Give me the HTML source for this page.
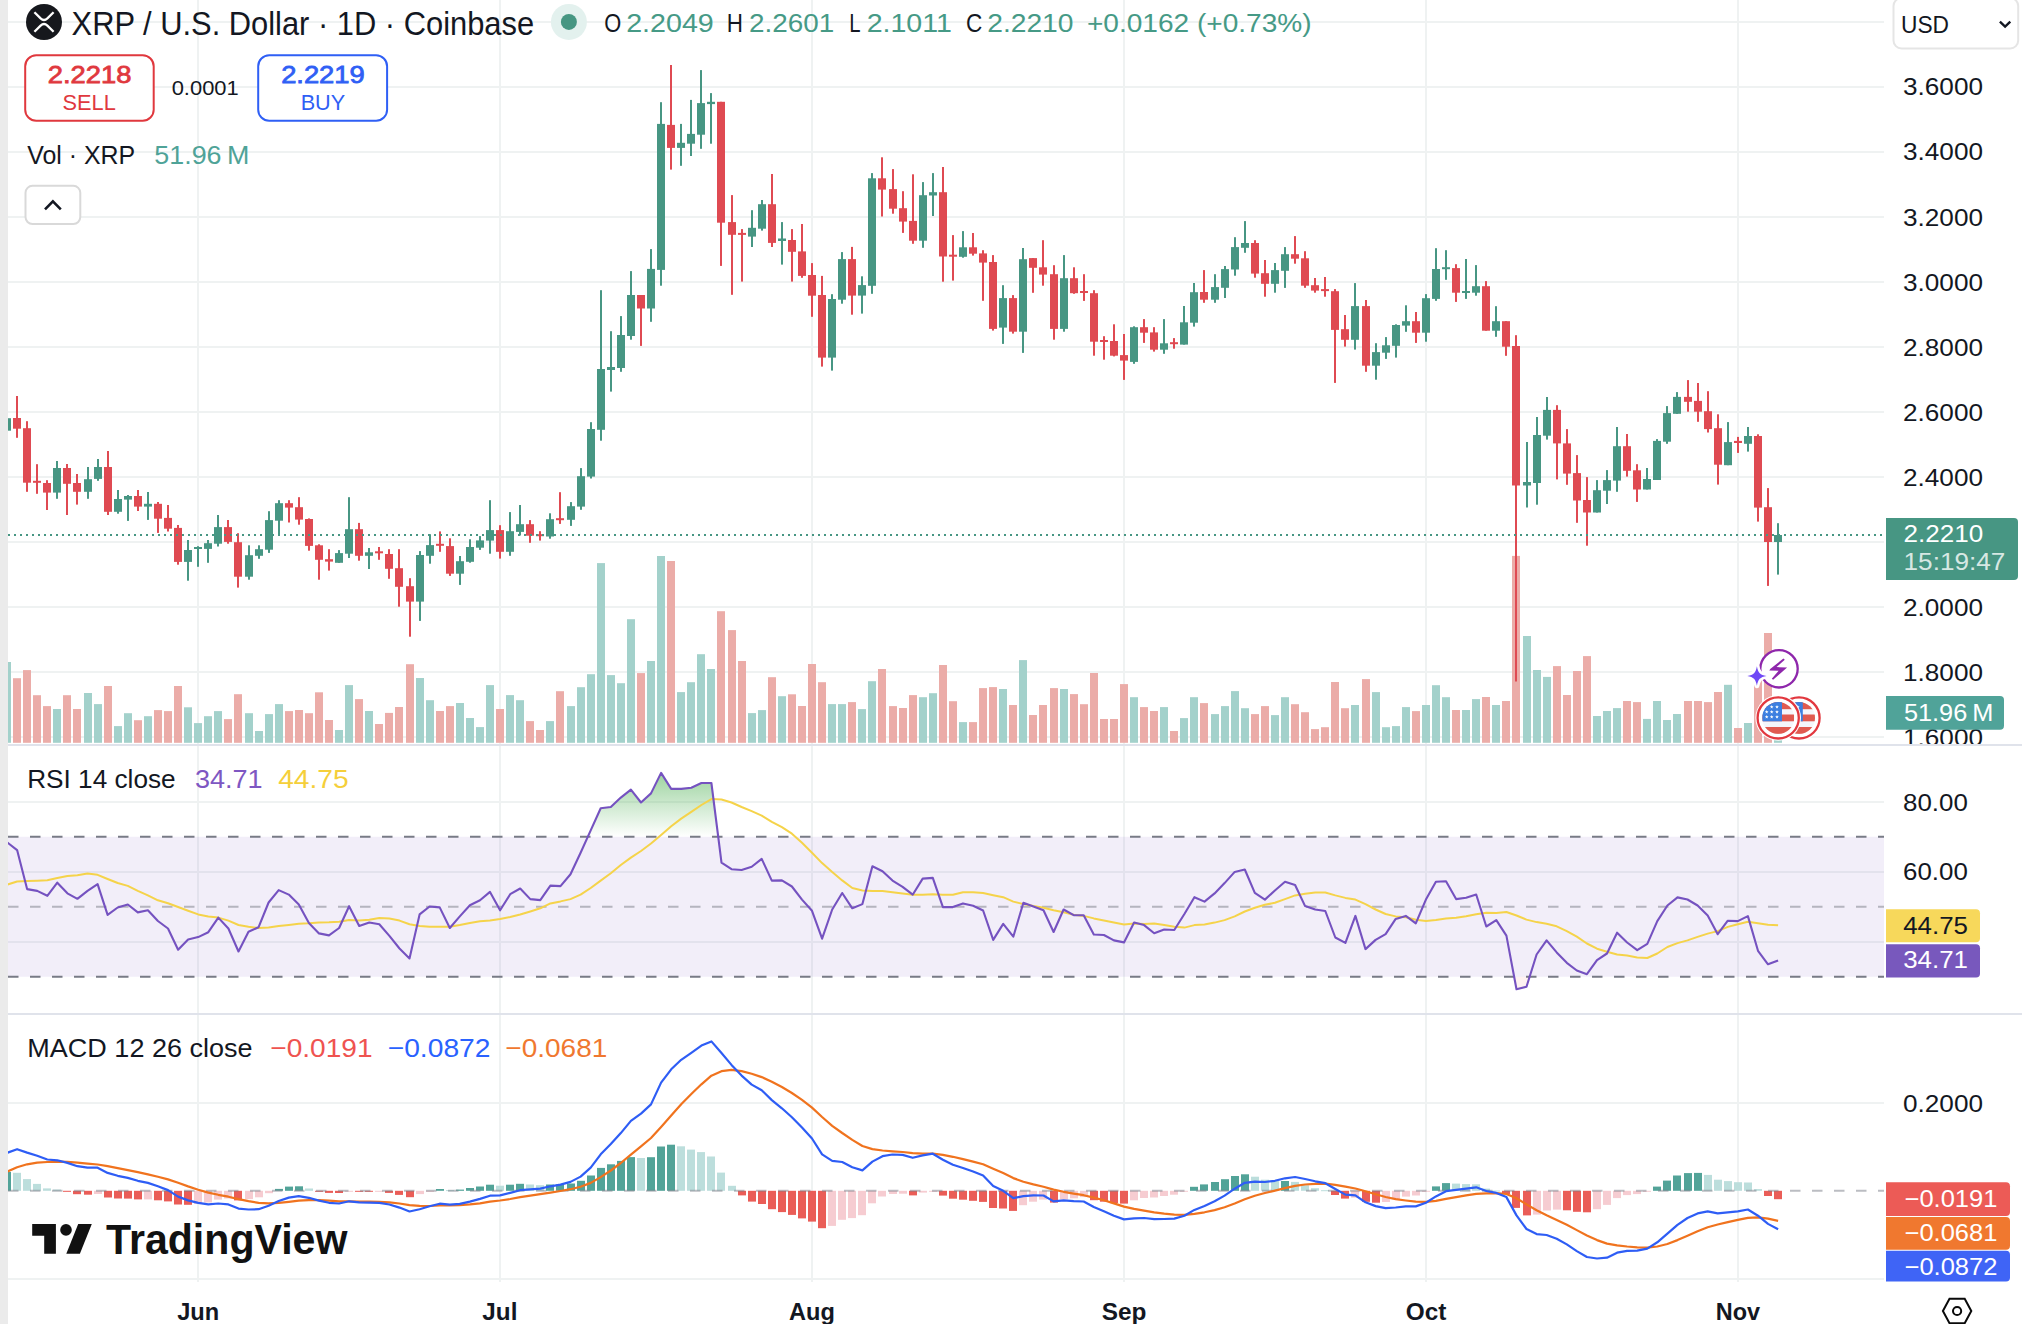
<!DOCTYPE html>
<html><head><meta charset="utf-8"><title>XRP / U.S. Dollar · 1D · Coinbase</title>
<style>
html,body{margin:0;padding:0;background:#fff;}
body{width:2022px;height:1324px;overflow:hidden;position:relative;font-family:'Liberation Sans', Arial, sans-serif;}
svg{position:absolute;left:0;top:0;}
</style></head><body>
<svg width="2022" height="1324" viewBox="0 0 2022 1324" font-family="'Liberation Sans', Arial, sans-serif">
<defs>
<linearGradient id="obg" x1="0" y1="0" x2="0" y2="1"><stop offset="0" stop-color="#4caf50" stop-opacity="0.55"/><stop offset="1" stop-color="#4caf50" stop-opacity="0"/></linearGradient>
<clipPath id="plot"><rect x="8" y="0" width="1876" height="744"/></clipPath>
<clipPath id="rsiclip"><rect x="8" y="746" width="1876" height="267"/></clipPath>
<clipPath id="macdclip"><rect x="8" y="1015" width="1876" height="267"/></clipPath>
<clipPath id="axisclip"><rect x="1884" y="0" width="138" height="744"/><rect x="1884" y="746" width="138" height="267"/><rect x="1884" y="1015" width="138" height="267"/></clipPath>
</defs>
<rect width="2022" height="1324" fill="#ffffff"/>
<g shape-rendering="crispEdges"><rect x="8" y="20.7" width="1876" height="2" fill="#eff2f2"/><rect x="8" y="85.7" width="1876" height="2" fill="#eff2f2"/><rect x="8" y="150.7" width="1876" height="2" fill="#eff2f2"/><rect x="8" y="215.8" width="1876" height="2" fill="#eff2f2"/><rect x="8" y="280.8" width="1876" height="2" fill="#eff2f2"/><rect x="8" y="345.8" width="1876" height="2" fill="#eff2f2"/><rect x="8" y="410.8" width="1876" height="2" fill="#eff2f2"/><rect x="8" y="475.8" width="1876" height="2" fill="#eff2f2"/><rect x="8" y="540.9" width="1876" height="2" fill="#eff2f2"/><rect x="8" y="605.9" width="1876" height="2" fill="#eff2f2"/><rect x="8" y="670.9" width="1876" height="2" fill="#eff2f2"/><rect x="8" y="735.9" width="1876" height="2" fill="#eff2f2"/><rect x="8" y="800.8" width="1876" height="2" fill="#eff2f2"/><rect x="8" y="870.8" width="1876" height="2" fill="#eff2f2"/><rect x="8" y="940.8" width="1876" height="2" fill="#eff2f2"/><rect x="8" y="1102.0" width="1876" height="2" fill="#eff2f2"/><rect x="8" y="1277.6" width="1876" height="2" fill="#eff2f2"/><rect x="197.2" y="0" width="2" height="1282" fill="#eff2f2"/><rect x="498.9" y="0" width="2" height="1282" fill="#eff2f2"/><rect x="811.0" y="0" width="2" height="1282" fill="#eff2f2"/><rect x="1123.0" y="0" width="2" height="1282" fill="#eff2f2"/><rect x="1425.0" y="0" width="2" height="1282" fill="#eff2f2"/><rect x="1737.0" y="0" width="2" height="1282" fill="#eff2f2"/></g>
<rect x="8" y="836.8" width="1876" height="140.0" fill="#7e57c2" fill-opacity="0.1"/>
<g clip-path="url(#plot)"><rect x="3" y="662.0" width="8" height="80.8" fill="#a3d1cb"/><rect x="13" y="678.2" width="8" height="64.6" fill="#ebaca8"/><rect x="23" y="670.1" width="8" height="72.7" fill="#ebaca8"/><rect x="33" y="695.2" width="8" height="47.6" fill="#ebaca8"/><rect x="43" y="706.1" width="8" height="36.7" fill="#ebaca8"/><rect x="53" y="709.0" width="8" height="33.8" fill="#a3d1cb"/><rect x="63" y="695.2" width="8" height="47.6" fill="#ebaca8"/><rect x="73" y="709.0" width="8" height="33.8" fill="#ebaca8"/><rect x="84" y="693.0" width="8" height="49.8" fill="#a3d1cb"/><rect x="94" y="704.1" width="8" height="38.7" fill="#a3d1cb"/><rect x="104" y="686.0" width="8" height="56.8" fill="#ebaca8"/><rect x="114" y="726.1" width="8" height="16.7" fill="#a3d1cb"/><rect x="124" y="713.2" width="8" height="29.6" fill="#a3d1cb"/><rect x="134" y="720.2" width="8" height="22.6" fill="#ebaca8"/><rect x="144" y="716.2" width="8" height="26.6" fill="#a3d1cb"/><rect x="154" y="710.1" width="8" height="32.7" fill="#ebaca8"/><rect x="164" y="711.1" width="8" height="31.7" fill="#ebaca8"/><rect x="174" y="686.0" width="8" height="56.8" fill="#ebaca8"/><rect x="184" y="707.3" width="8" height="35.5" fill="#a3d1cb"/><rect x="194" y="723.1" width="8" height="19.7" fill="#a3d1cb"/><rect x="204" y="716.2" width="8" height="26.6" fill="#a3d1cb"/><rect x="214" y="711.1" width="8" height="31.7" fill="#a3d1cb"/><rect x="224" y="719.1" width="8" height="23.7" fill="#ebaca8"/><rect x="234" y="694.2" width="8" height="48.6" fill="#ebaca8"/><rect x="245" y="713.2" width="8" height="29.6" fill="#a3d1cb"/><rect x="255" y="731.0" width="8" height="11.8" fill="#a3d1cb"/><rect x="265" y="714.1" width="8" height="28.7" fill="#a3d1cb"/><rect x="275" y="704.1" width="8" height="38.7" fill="#a3d1cb"/><rect x="285" y="711.1" width="8" height="31.7" fill="#ebaca8"/><rect x="295" y="710.0" width="8" height="32.8" fill="#ebaca8"/><rect x="305" y="713.2" width="8" height="29.6" fill="#ebaca8"/><rect x="315" y="692.3" width="8" height="50.5" fill="#ebaca8"/><rect x="325" y="720.0" width="8" height="22.8" fill="#ebaca8"/><rect x="335" y="730.0" width="8" height="12.8" fill="#a3d1cb"/><rect x="345" y="685.1" width="8" height="57.7" fill="#a3d1cb"/><rect x="355" y="699.1" width="8" height="43.7" fill="#ebaca8"/><rect x="365" y="711.0" width="8" height="31.8" fill="#a3d1cb"/><rect x="375" y="724.0" width="8" height="18.8" fill="#ebaca8"/><rect x="385" y="712.9" width="8" height="29.9" fill="#ebaca8"/><rect x="395" y="707.0" width="8" height="35.8" fill="#ebaca8"/><rect x="406" y="664.2" width="8" height="78.6" fill="#ebaca8"/><rect x="416" y="678.0" width="8" height="64.8" fill="#a3d1cb"/><rect x="426" y="700.2" width="8" height="42.6" fill="#a3d1cb"/><rect x="436" y="711.0" width="8" height="31.8" fill="#ebaca8"/><rect x="446" y="706.1" width="8" height="36.7" fill="#ebaca8"/><rect x="456" y="703.0" width="8" height="39.8" fill="#a3d1cb"/><rect x="466" y="718.0" width="8" height="24.8" fill="#a3d1cb"/><rect x="476" y="727.1" width="8" height="15.7" fill="#a3d1cb"/><rect x="486" y="685.1" width="8" height="57.7" fill="#a3d1cb"/><rect x="496" y="709.0" width="8" height="33.8" fill="#ebaca8"/><rect x="506" y="695.1" width="8" height="47.7" fill="#a3d1cb"/><rect x="516" y="700.2" width="8" height="42.6" fill="#a3d1cb"/><rect x="526" y="721.1" width="8" height="21.7" fill="#ebaca8"/><rect x="536" y="730.0" width="8" height="12.8" fill="#ebaca8"/><rect x="546" y="721.1" width="8" height="21.7" fill="#a3d1cb"/><rect x="556" y="691.2" width="8" height="51.6" fill="#ebaca8"/><rect x="567" y="706.1" width="8" height="36.7" fill="#a3d1cb"/><rect x="577" y="687.2" width="8" height="55.6" fill="#a3d1cb"/><rect x="587" y="674.2" width="8" height="68.6" fill="#a3d1cb"/><rect x="597" y="563.1" width="8" height="179.7" fill="#a3d1cb"/><rect x="607" y="675.1" width="8" height="67.7" fill="#a3d1cb"/><rect x="617" y="683.2" width="8" height="59.6" fill="#a3d1cb"/><rect x="627" y="619.2" width="8" height="123.6" fill="#a3d1cb"/><rect x="637" y="673.1" width="8" height="69.7" fill="#ebaca8"/><rect x="647" y="661.0" width="8" height="81.8" fill="#a3d1cb"/><rect x="657" y="556.0" width="8" height="186.8" fill="#a3d1cb"/><rect x="667" y="561.0" width="8" height="181.8" fill="#ebaca8"/><rect x="677" y="692.1" width="8" height="50.7" fill="#a3d1cb"/><rect x="687" y="682.2" width="8" height="60.6" fill="#a3d1cb"/><rect x="697" y="654.2" width="8" height="88.6" fill="#a3d1cb"/><rect x="707" y="669.0" width="8" height="73.8" fill="#a3d1cb"/><rect x="717" y="611.2" width="8" height="131.6" fill="#ebaca8"/><rect x="728" y="630.1" width="8" height="112.7" fill="#ebaca8"/><rect x="738" y="661.0" width="8" height="81.8" fill="#ebaca8"/><rect x="748" y="713.1" width="8" height="29.7" fill="#a3d1cb"/><rect x="758" y="710.1" width="8" height="32.7" fill="#a3d1cb"/><rect x="768" y="677.2" width="8" height="65.6" fill="#ebaca8"/><rect x="778" y="696.2" width="8" height="46.6" fill="#a3d1cb"/><rect x="788" y="694.3" width="8" height="48.5" fill="#ebaca8"/><rect x="798" y="706.0" width="8" height="36.8" fill="#ebaca8"/><rect x="808" y="664.0" width="8" height="78.8" fill="#ebaca8"/><rect x="818" y="682.2" width="8" height="60.6" fill="#ebaca8"/><rect x="828" y="704.1" width="8" height="38.7" fill="#a3d1cb"/><rect x="838" y="704.1" width="8" height="38.7" fill="#a3d1cb"/><rect x="848" y="702.1" width="8" height="40.7" fill="#ebaca8"/><rect x="858" y="709.1" width="8" height="33.7" fill="#a3d1cb"/><rect x="868" y="681.2" width="8" height="61.6" fill="#a3d1cb"/><rect x="878" y="669.0" width="8" height="73.8" fill="#ebaca8"/><rect x="889" y="706.1" width="8" height="36.7" fill="#ebaca8"/><rect x="899" y="708.0" width="8" height="34.8" fill="#ebaca8"/><rect x="909" y="695.1" width="8" height="47.7" fill="#ebaca8"/><rect x="919" y="697.2" width="8" height="45.6" fill="#a3d1cb"/><rect x="929" y="693.2" width="8" height="49.6" fill="#a3d1cb"/><rect x="939" y="665.0" width="8" height="77.8" fill="#ebaca8"/><rect x="949" y="701.2" width="8" height="41.6" fill="#ebaca8"/><rect x="959" y="722.1" width="8" height="20.7" fill="#a3d1cb"/><rect x="969" y="722.1" width="8" height="20.7" fill="#ebaca8"/><rect x="979" y="688.1" width="8" height="54.7" fill="#ebaca8"/><rect x="989" y="687.1" width="8" height="55.7" fill="#ebaca8"/><rect x="999" y="689.0" width="8" height="53.8" fill="#a3d1cb"/><rect x="1009" y="705.0" width="8" height="37.8" fill="#ebaca8"/><rect x="1019" y="660.1" width="8" height="82.7" fill="#a3d1cb"/><rect x="1029" y="715.0" width="8" height="27.8" fill="#ebaca8"/><rect x="1039" y="705.0" width="8" height="37.8" fill="#ebaca8"/><rect x="1050" y="688.1" width="8" height="54.7" fill="#ebaca8"/><rect x="1060" y="689.0" width="8" height="53.8" fill="#a3d1cb"/><rect x="1070" y="694.1" width="8" height="48.7" fill="#ebaca8"/><rect x="1080" y="704.2" width="8" height="38.6" fill="#ebaca8"/><rect x="1090" y="673.0" width="8" height="69.8" fill="#ebaca8"/><rect x="1100" y="719.0" width="8" height="23.8" fill="#ebaca8"/><rect x="1110" y="719.0" width="8" height="23.8" fill="#ebaca8"/><rect x="1120" y="684.1" width="8" height="58.7" fill="#ebaca8"/><rect x="1130" y="697.2" width="8" height="45.6" fill="#a3d1cb"/><rect x="1140" y="707.1" width="8" height="35.7" fill="#ebaca8"/><rect x="1150" y="711.0" width="8" height="31.8" fill="#ebaca8"/><rect x="1160" y="707.1" width="8" height="35.7" fill="#a3d1cb"/><rect x="1170" y="731.0" width="8" height="11.8" fill="#ebaca8"/><rect x="1180" y="718.1" width="8" height="24.7" fill="#a3d1cb"/><rect x="1190" y="697.2" width="8" height="45.6" fill="#a3d1cb"/><rect x="1200" y="703.1" width="8" height="39.7" fill="#ebaca8"/><rect x="1211" y="714.1" width="8" height="28.7" fill="#a3d1cb"/><rect x="1221" y="706.1" width="8" height="36.7" fill="#a3d1cb"/><rect x="1231" y="691.1" width="8" height="51.7" fill="#a3d1cb"/><rect x="1241" y="708.2" width="8" height="34.6" fill="#a3d1cb"/><rect x="1251" y="714.1" width="8" height="28.7" fill="#ebaca8"/><rect x="1261" y="706.1" width="8" height="36.7" fill="#ebaca8"/><rect x="1271" y="715.1" width="8" height="27.7" fill="#a3d1cb"/><rect x="1281" y="697.2" width="8" height="45.6" fill="#a3d1cb"/><rect x="1291" y="704.2" width="8" height="38.6" fill="#ebaca8"/><rect x="1301" y="712.2" width="8" height="30.6" fill="#ebaca8"/><rect x="1311" y="729.1" width="8" height="13.7" fill="#ebaca8"/><rect x="1321" y="727.2" width="8" height="15.6" fill="#ebaca8"/><rect x="1331" y="682.0" width="8" height="60.8" fill="#ebaca8"/><rect x="1341" y="708.2" width="8" height="34.6" fill="#ebaca8"/><rect x="1351" y="705.0" width="8" height="37.8" fill="#a3d1cb"/><rect x="1362" y="679.1" width="8" height="63.7" fill="#ebaca8"/><rect x="1372" y="692.1" width="8" height="50.7" fill="#a3d1cb"/><rect x="1382" y="727.2" width="8" height="15.6" fill="#a3d1cb"/><rect x="1392" y="726.1" width="8" height="16.7" fill="#a3d1cb"/><rect x="1402" y="707.1" width="8" height="35.7" fill="#a3d1cb"/><rect x="1412" y="711.1" width="8" height="31.7" fill="#ebaca8"/><rect x="1422" y="705.0" width="8" height="37.8" fill="#a3d1cb"/><rect x="1432" y="685.2" width="8" height="57.6" fill="#a3d1cb"/><rect x="1442" y="697.2" width="8" height="45.6" fill="#a3d1cb"/><rect x="1452" y="710.0" width="8" height="32.8" fill="#ebaca8"/><rect x="1462" y="710.0" width="8" height="32.8" fill="#a3d1cb"/><rect x="1472" y="699.1" width="8" height="43.7" fill="#a3d1cb"/><rect x="1482" y="697.0" width="8" height="45.8" fill="#ebaca8"/><rect x="1492" y="705.0" width="8" height="37.8" fill="#a3d1cb"/><rect x="1502" y="701.0" width="8" height="41.8" fill="#ebaca8"/><rect x="1512" y="555.9" width="8" height="186.9" fill="#ebaca8"/><rect x="1523" y="636.0" width="8" height="106.8" fill="#a3d1cb"/><rect x="1533" y="670.0" width="8" height="72.8" fill="#a3d1cb"/><rect x="1543" y="676.9" width="8" height="65.9" fill="#a3d1cb"/><rect x="1553" y="666.1" width="8" height="76.7" fill="#ebaca8"/><rect x="1563" y="695.0" width="8" height="47.8" fill="#ebaca8"/><rect x="1573" y="671.0" width="8" height="71.8" fill="#ebaca8"/><rect x="1583" y="656.1" width="8" height="86.7" fill="#ebaca8"/><rect x="1593" y="716.0" width="8" height="26.8" fill="#a3d1cb"/><rect x="1603" y="711.0" width="8" height="31.8" fill="#a3d1cb"/><rect x="1613" y="708.1" width="8" height="34.7" fill="#a3d1cb"/><rect x="1623" y="701.0" width="8" height="41.8" fill="#ebaca8"/><rect x="1633" y="702.1" width="8" height="40.7" fill="#ebaca8"/><rect x="1643" y="718.9" width="8" height="23.9" fill="#a3d1cb"/><rect x="1653" y="701.0" width="8" height="41.8" fill="#a3d1cb"/><rect x="1663" y="720.0" width="8" height="22.8" fill="#a3d1cb"/><rect x="1673" y="714.0" width="8" height="28.8" fill="#a3d1cb"/><rect x="1684" y="701.0" width="8" height="41.8" fill="#ebaca8"/><rect x="1694" y="701.0" width="8" height="41.8" fill="#ebaca8"/><rect x="1704" y="702.1" width="8" height="40.7" fill="#ebaca8"/><rect x="1714" y="692.0" width="8" height="50.8" fill="#ebaca8"/><rect x="1724" y="684.8" width="8" height="58.0" fill="#a3d1cb"/><rect x="1734" y="728.0" width="8" height="14.8" fill="#ebaca8"/><rect x="1744" y="723.0" width="8" height="19.8" fill="#a3d1cb"/><rect x="1754" y="672.0" width="8" height="70.8" fill="#ebaca8"/><rect x="1764" y="633.0" width="8" height="109.8" fill="#ebaca8"/><rect x="1774" y="722.0" width="8" height="20.8" fill="#a3d1cb"/></g>
<g clip-path="url(#plot)"><rect x="6" y="418.0" width="2" height="13.0" fill="#479683"/><rect x="3" y="418.2" width="8" height="12.5" fill="#479683"/><rect x="16" y="396.0" width="2" height="41.8" fill="#df4a52"/><rect x="13" y="418.0" width="8" height="10.7" fill="#df4a52"/><rect x="26" y="421.2" width="2" height="70.6" fill="#df4a52"/><rect x="23" y="428.2" width="8" height="54.5" fill="#df4a52"/><rect x="36" y="464.2" width="2" height="29.6" fill="#df4a52"/><rect x="33" y="480.8" width="8" height="2.0" fill="#df4a52"/><rect x="46" y="480.2" width="2" height="29.8" fill="#df4a52"/><rect x="43" y="483.0" width="8" height="9.6" fill="#df4a52"/><rect x="56" y="461.0" width="2" height="37.8" fill="#479683"/><rect x="53" y="468.0" width="8" height="24.6" fill="#479683"/><rect x="66" y="464.0" width="2" height="51.0" fill="#df4a52"/><rect x="63" y="468.0" width="8" height="15.8" fill="#df4a52"/><rect x="76" y="474.0" width="2" height="30.6" fill="#df4a52"/><rect x="73" y="483.0" width="8" height="8.8" fill="#df4a52"/><rect x="87" y="467.0" width="2" height="31.8" fill="#479683"/><rect x="84" y="479.2" width="8" height="12.6" fill="#479683"/><rect x="97" y="459.0" width="2" height="21.8" fill="#479683"/><rect x="94" y="467.0" width="8" height="11.9" fill="#479683"/><rect x="107" y="451.0" width="2" height="64.0" fill="#df4a52"/><rect x="104" y="467.0" width="8" height="44.8" fill="#df4a52"/><rect x="117" y="490.0" width="2" height="23.7" fill="#479683"/><rect x="114" y="499.0" width="8" height="12.8" fill="#479683"/><rect x="127" y="495.0" width="2" height="25.9" fill="#479683"/><rect x="124" y="496.0" width="8" height="3.6" fill="#479683"/><rect x="137" y="490.0" width="2" height="21.0" fill="#df4a52"/><rect x="134" y="496.0" width="8" height="10.6" fill="#df4a52"/><rect x="147" y="492.0" width="2" height="27.9" fill="#479683"/><rect x="144" y="503.8" width="8" height="2.8" fill="#479683"/><rect x="157" y="502.0" width="2" height="30.9" fill="#df4a52"/><rect x="154" y="503.8" width="8" height="14.9" fill="#df4a52"/><rect x="167" y="505.0" width="2" height="26.5" fill="#df4a52"/><rect x="164" y="517.9" width="8" height="10.8" fill="#df4a52"/><rect x="177" y="525.0" width="2" height="39.7" fill="#df4a52"/><rect x="174" y="527.9" width="8" height="34.0" fill="#df4a52"/><rect x="187" y="540.0" width="2" height="40.7" fill="#479683"/><rect x="184" y="550.0" width="8" height="11.9" fill="#479683"/><rect x="197" y="546.2" width="2" height="20.6" fill="#479683"/><rect x="194" y="547.0" width="8" height="2.0" fill="#479683"/><rect x="207" y="540.0" width="2" height="22.8" fill="#479683"/><rect x="204" y="543.2" width="8" height="5.7" fill="#479683"/><rect x="217" y="515.0" width="2" height="31.5" fill="#479683"/><rect x="214" y="527.1" width="8" height="16.6" fill="#479683"/><rect x="227" y="520.0" width="2" height="23.7" fill="#df4a52"/><rect x="224" y="527.1" width="8" height="14.8" fill="#df4a52"/><rect x="237" y="533.2" width="2" height="54.4" fill="#df4a52"/><rect x="234" y="542.2" width="8" height="34.5" fill="#df4a52"/><rect x="248" y="545.3" width="2" height="34.4" fill="#479683"/><rect x="245" y="555.2" width="8" height="21.5" fill="#479683"/><rect x="258" y="545.3" width="2" height="13.5" fill="#479683"/><rect x="255" y="549.2" width="8" height="6.6" fill="#479683"/><rect x="268" y="511.2" width="2" height="41.7" fill="#479683"/><rect x="265" y="520.1" width="8" height="29.6" fill="#479683"/><rect x="278" y="500.2" width="2" height="35.6" fill="#479683"/><rect x="275" y="503.2" width="8" height="17.5" fill="#479683"/><rect x="288" y="500.2" width="2" height="22.3" fill="#df4a52"/><rect x="285" y="503.2" width="8" height="4.4" fill="#df4a52"/><rect x="298" y="497.2" width="2" height="27.5" fill="#df4a52"/><rect x="295" y="507.2" width="8" height="12.4" fill="#df4a52"/><rect x="308" y="518.4" width="2" height="32.3" fill="#df4a52"/><rect x="305" y="519.0" width="8" height="26.9" fill="#df4a52"/><rect x="318" y="544.3" width="2" height="35.4" fill="#df4a52"/><rect x="315" y="545.3" width="8" height="14.5" fill="#df4a52"/><rect x="328" y="549.2" width="2" height="21.4" fill="#df4a52"/><rect x="325" y="559.2" width="8" height="2.4" fill="#df4a52"/><rect x="338" y="550.1" width="2" height="12.7" fill="#479683"/><rect x="335" y="553.1" width="8" height="9.7" fill="#479683"/><rect x="348" y="497.2" width="2" height="60.8" fill="#479683"/><rect x="345" y="529.2" width="8" height="24.5" fill="#479683"/><rect x="358" y="522.9" width="2" height="37.8" fill="#df4a52"/><rect x="355" y="529.2" width="8" height="26.6" fill="#df4a52"/><rect x="368" y="548.0" width="2" height="21.0" fill="#479683"/><rect x="365" y="552.3" width="8" height="3.5" fill="#479683"/><rect x="378" y="547.0" width="2" height="12.8" fill="#df4a52"/><rect x="375" y="551.3" width="8" height="2.0" fill="#df4a52"/><rect x="388" y="549.2" width="2" height="29.6" fill="#df4a52"/><rect x="385" y="554.0" width="8" height="14.8" fill="#df4a52"/><rect x="398" y="549.2" width="2" height="57.5" fill="#df4a52"/><rect x="395" y="568.2" width="8" height="18.6" fill="#df4a52"/><rect x="409" y="578.2" width="2" height="58.5" fill="#df4a52"/><rect x="406" y="586.2" width="8" height="15.4" fill="#df4a52"/><rect x="419" y="551.1" width="2" height="69.8" fill="#479683"/><rect x="416" y="555.0" width="8" height="46.6" fill="#479683"/><rect x="429" y="534.2" width="2" height="29.5" fill="#479683"/><rect x="426" y="545.1" width="8" height="10.7" fill="#479683"/><rect x="439" y="531.4" width="2" height="20.4" fill="#df4a52"/><rect x="436" y="543.8" width="8" height="2.0" fill="#df4a52"/><rect x="449" y="538.3" width="2" height="37.6" fill="#df4a52"/><rect x="446" y="546.1" width="8" height="27.6" fill="#df4a52"/><rect x="459" y="556.0" width="2" height="28.9" fill="#479683"/><rect x="456" y="561.2" width="8" height="12.5" fill="#479683"/><rect x="469" y="539.3" width="2" height="23.4" fill="#479683"/><rect x="466" y="547.0" width="8" height="14.8" fill="#479683"/><rect x="479" y="536.1" width="2" height="13.8" fill="#479683"/><rect x="476" y="540.4" width="8" height="7.3" fill="#479683"/><rect x="489" y="500.2" width="2" height="53.5" fill="#479683"/><rect x="486" y="530.1" width="8" height="10.5" fill="#479683"/><rect x="499" y="525.2" width="2" height="33.4" fill="#df4a52"/><rect x="496" y="530.1" width="8" height="21.7" fill="#df4a52"/><rect x="509" y="512.1" width="2" height="43.7" fill="#479683"/><rect x="506" y="531.2" width="8" height="20.6" fill="#479683"/><rect x="519" y="505.0" width="2" height="30.5" fill="#479683"/><rect x="516" y="524.2" width="8" height="7.7" fill="#479683"/><rect x="529" y="520.1" width="2" height="22.7" fill="#df4a52"/><rect x="526" y="524.2" width="8" height="11.5" fill="#df4a52"/><rect x="539" y="531.2" width="2" height="9.4" fill="#df4a52"/><rect x="536" y="534.2" width="8" height="2.0" fill="#df4a52"/><rect x="549" y="513.3" width="2" height="25.4" fill="#479683"/><rect x="546" y="519.2" width="8" height="17.3" fill="#479683"/><rect x="559" y="492.2" width="2" height="31.7" fill="#df4a52"/><rect x="556" y="518.2" width="8" height="2.0" fill="#df4a52"/><rect x="570" y="502.1" width="2" height="23.8" fill="#479683"/><rect x="567" y="506.2" width="8" height="13.6" fill="#479683"/><rect x="580" y="468.1" width="2" height="41.7" fill="#479683"/><rect x="577" y="476.2" width="8" height="30.4" fill="#479683"/><rect x="590" y="422.2" width="2" height="56.3" fill="#479683"/><rect x="587" y="429.0" width="8" height="47.6" fill="#479683"/><rect x="600" y="290.2" width="2" height="150.5" fill="#479683"/><rect x="597" y="369.0" width="8" height="60.8" fill="#479683"/><rect x="610" y="331.2" width="2" height="60.4" fill="#479683"/><rect x="607" y="367.0" width="8" height="3.0" fill="#479683"/><rect x="620" y="316.1" width="2" height="55.7" fill="#479683"/><rect x="617" y="335.0" width="8" height="33.0" fill="#479683"/><rect x="630" y="271.1" width="2" height="68.6" fill="#479683"/><rect x="627" y="295.0" width="8" height="41.0" fill="#479683"/><rect x="640" y="295.0" width="2" height="50.9" fill="#df4a52"/><rect x="637" y="295.0" width="8" height="13.5" fill="#df4a52"/><rect x="650" y="249.1" width="2" height="72.7" fill="#479683"/><rect x="647" y="268.9" width="8" height="39.6" fill="#479683"/><rect x="660" y="102.2" width="2" height="183.5" fill="#479683"/><rect x="657" y="123.9" width="8" height="146.0" fill="#479683"/><rect x="670" y="65.0" width="2" height="104.6" fill="#df4a52"/><rect x="667" y="124.9" width="8" height="23.0" fill="#df4a52"/><rect x="680" y="123.9" width="2" height="41.9" fill="#479683"/><rect x="677" y="142.8" width="8" height="5.1" fill="#479683"/><rect x="690" y="99.9" width="2" height="56.1" fill="#479683"/><rect x="687" y="133.9" width="8" height="9.8" fill="#479683"/><rect x="700" y="70.1" width="2" height="78.7" fill="#479683"/><rect x="697" y="103.1" width="8" height="31.6" fill="#479683"/><rect x="710" y="93.1" width="2" height="50.6" fill="#479683"/><rect x="707" y="101.8" width="8" height="2.3" fill="#479683"/><rect x="720" y="101.8" width="2" height="164.1" fill="#df4a52"/><rect x="717" y="101.8" width="8" height="120.9" fill="#df4a52"/><rect x="731" y="195.1" width="2" height="99.7" fill="#df4a52"/><rect x="728" y="222.1" width="8" height="12.7" fill="#df4a52"/><rect x="741" y="229.1" width="2" height="52.5" fill="#df4a52"/><rect x="738" y="232.9" width="8" height="2.0" fill="#df4a52"/><rect x="751" y="210.2" width="2" height="36.8" fill="#479683"/><rect x="748" y="227.8" width="8" height="8.8" fill="#479683"/><rect x="761" y="200.0" width="2" height="30.6" fill="#479683"/><rect x="758" y="204.2" width="8" height="24.5" fill="#479683"/><rect x="771" y="174.0" width="2" height="73.0" fill="#df4a52"/><rect x="768" y="204.2" width="8" height="38.7" fill="#df4a52"/><rect x="781" y="222.1" width="2" height="42.5" fill="#479683"/><rect x="778" y="238.5" width="8" height="2.5" fill="#479683"/><rect x="791" y="229.1" width="2" height="52.5" fill="#df4a52"/><rect x="788" y="240.0" width="8" height="11.8" fill="#df4a52"/><rect x="801" y="224.0" width="2" height="53.8" fill="#df4a52"/><rect x="798" y="251.4" width="8" height="24.5" fill="#df4a52"/><rect x="811" y="263.1" width="2" height="53.7" fill="#df4a52"/><rect x="808" y="275.0" width="8" height="20.7" fill="#df4a52"/><rect x="821" y="275.9" width="2" height="90.7" fill="#df4a52"/><rect x="818" y="295.0" width="8" height="62.6" fill="#df4a52"/><rect x="831" y="294.2" width="2" height="76.4" fill="#479683"/><rect x="828" y="299.0" width="8" height="58.6" fill="#479683"/><rect x="841" y="252.1" width="2" height="51.6" fill="#479683"/><rect x="838" y="259.1" width="8" height="40.6" fill="#479683"/><rect x="851" y="246.9" width="2" height="67.8" fill="#df4a52"/><rect x="848" y="259.1" width="8" height="36.5" fill="#df4a52"/><rect x="861" y="276.3" width="2" height="37.3" fill="#479683"/><rect x="858" y="285.1" width="8" height="10.5" fill="#479683"/><rect x="871" y="173.1" width="2" height="120.7" fill="#479683"/><rect x="868" y="178.3" width="8" height="107.5" fill="#479683"/><rect x="881" y="157.3" width="2" height="59.2" fill="#df4a52"/><rect x="878" y="178.3" width="8" height="11.3" fill="#df4a52"/><rect x="892" y="169.1" width="2" height="44.6" fill="#df4a52"/><rect x="889" y="189.1" width="8" height="19.6" fill="#df4a52"/><rect x="902" y="191.2" width="2" height="41.7" fill="#df4a52"/><rect x="899" y="208.2" width="8" height="13.4" fill="#df4a52"/><rect x="912" y="174.3" width="2" height="69.5" fill="#df4a52"/><rect x="909" y="220.9" width="8" height="19.8" fill="#df4a52"/><rect x="922" y="182.1" width="2" height="65.7" fill="#479683"/><rect x="919" y="195.2" width="8" height="45.5" fill="#479683"/><rect x="932" y="173.1" width="2" height="42.9" fill="#479683"/><rect x="929" y="192.2" width="8" height="3.3" fill="#479683"/><rect x="942" y="167.0" width="2" height="114.7" fill="#df4a52"/><rect x="939" y="192.2" width="8" height="64.3" fill="#df4a52"/><rect x="952" y="235.1" width="2" height="45.5" fill="#df4a52"/><rect x="949" y="254.7" width="8" height="2.0" fill="#df4a52"/><rect x="962" y="231.1" width="2" height="26.6" fill="#479683"/><rect x="959" y="247.3" width="8" height="9.5" fill="#479683"/><rect x="972" y="233.0" width="2" height="22.6" fill="#df4a52"/><rect x="969" y="247.3" width="8" height="6.4" fill="#df4a52"/><rect x="982" y="250.2" width="2" height="50.6" fill="#df4a52"/><rect x="979" y="253.4" width="8" height="9.2" fill="#df4a52"/><rect x="992" y="255.1" width="2" height="75.5" fill="#df4a52"/><rect x="989" y="262.0" width="8" height="66.9" fill="#df4a52"/><rect x="1002" y="285.2" width="2" height="58.7" fill="#479683"/><rect x="999" y="298.1" width="8" height="29.5" fill="#479683"/><rect x="1012" y="295.1" width="2" height="38.5" fill="#df4a52"/><rect x="1009" y="298.1" width="8" height="33.6" fill="#df4a52"/><rect x="1022" y="248.0" width="2" height="104.9" fill="#479683"/><rect x="1019" y="259.2" width="8" height="72.5" fill="#479683"/><rect x="1032" y="258.1" width="2" height="34.7" fill="#df4a52"/><rect x="1029" y="258.1" width="8" height="9.7" fill="#df4a52"/><rect x="1042" y="240.2" width="2" height="45.5" fill="#df4a52"/><rect x="1039" y="267.3" width="8" height="7.3" fill="#df4a52"/><rect x="1053" y="265.2" width="2" height="74.5" fill="#df4a52"/><rect x="1050" y="274.2" width="8" height="54.7" fill="#df4a52"/><rect x="1063" y="255.1" width="2" height="76.6" fill="#479683"/><rect x="1060" y="278.2" width="8" height="50.7" fill="#479683"/><rect x="1073" y="267.3" width="2" height="26.5" fill="#df4a52"/><rect x="1070" y="278.2" width="8" height="15.0" fill="#df4a52"/><rect x="1083" y="274.2" width="2" height="26.7" fill="#df4a52"/><rect x="1080" y="291.0" width="8" height="2.0" fill="#df4a52"/><rect x="1093" y="290.2" width="2" height="65.5" fill="#df4a52"/><rect x="1090" y="293.2" width="8" height="48.5" fill="#df4a52"/><rect x="1103" y="336.2" width="2" height="23.5" fill="#df4a52"/><rect x="1100" y="340.0" width="8" height="2.0" fill="#df4a52"/><rect x="1113" y="324.3" width="2" height="32.1" fill="#df4a52"/><rect x="1110" y="341.0" width="8" height="14.7" fill="#df4a52"/><rect x="1123" y="334.0" width="2" height="45.9" fill="#df4a52"/><rect x="1120" y="355.1" width="8" height="5.5" fill="#df4a52"/><rect x="1133" y="326.3" width="2" height="37.5" fill="#479683"/><rect x="1130" y="327.2" width="8" height="34.7" fill="#479683"/><rect x="1143" y="319.1" width="2" height="23.8" fill="#df4a52"/><rect x="1140" y="327.2" width="8" height="5.5" fill="#df4a52"/><rect x="1153" y="327.2" width="2" height="24.4" fill="#df4a52"/><rect x="1150" y="332.4" width="8" height="17.3" fill="#df4a52"/><rect x="1163" y="319.1" width="2" height="34.7" fill="#479683"/><rect x="1160" y="343.3" width="8" height="6.4" fill="#479683"/><rect x="1173" y="338.1" width="2" height="10.6" fill="#df4a52"/><rect x="1170" y="342.2" width="8" height="2.0" fill="#df4a52"/><rect x="1183" y="306.0" width="2" height="38.6" fill="#479683"/><rect x="1180" y="322.3" width="8" height="22.3" fill="#479683"/><rect x="1193" y="283.0" width="2" height="43.6" fill="#479683"/><rect x="1190" y="292.2" width="8" height="30.5" fill="#479683"/><rect x="1203" y="270.1" width="2" height="32.7" fill="#df4a52"/><rect x="1200" y="292.0" width="8" height="7.7" fill="#df4a52"/><rect x="1214" y="274.2" width="2" height="28.6" fill="#479683"/><rect x="1211" y="287.1" width="8" height="12.6" fill="#479683"/><rect x="1224" y="266.0" width="2" height="32.0" fill="#479683"/><rect x="1221" y="269.1" width="8" height="18.7" fill="#479683"/><rect x="1234" y="237.2" width="2" height="38.5" fill="#479683"/><rect x="1231" y="247.1" width="8" height="22.4" fill="#479683"/><rect x="1244" y="221.1" width="2" height="31.7" fill="#479683"/><rect x="1241" y="243.0" width="8" height="4.8" fill="#479683"/><rect x="1254" y="240.2" width="2" height="37.5" fill="#df4a52"/><rect x="1251" y="243.0" width="8" height="30.6" fill="#df4a52"/><rect x="1264" y="260.0" width="2" height="36.7" fill="#df4a52"/><rect x="1261" y="273.2" width="8" height="10.6" fill="#df4a52"/><rect x="1274" y="263.0" width="2" height="29.7" fill="#479683"/><rect x="1271" y="270.1" width="8" height="13.7" fill="#479683"/><rect x="1284" y="247.1" width="2" height="40.8" fill="#479683"/><rect x="1281" y="254.2" width="8" height="16.6" fill="#479683"/><rect x="1294" y="236.1" width="2" height="27.6" fill="#df4a52"/><rect x="1291" y="254.2" width="8" height="4.5" fill="#df4a52"/><rect x="1304" y="251.2" width="2" height="36.6" fill="#df4a52"/><rect x="1301" y="258.3" width="8" height="27.4" fill="#df4a52"/><rect x="1314" y="278.0" width="2" height="14.7" fill="#df4a52"/><rect x="1311" y="285.2" width="8" height="5.4" fill="#df4a52"/><rect x="1324" y="277.0" width="2" height="19.7" fill="#df4a52"/><rect x="1321" y="289.1" width="8" height="2.0" fill="#df4a52"/><rect x="1334" y="289.1" width="2" height="93.8" fill="#df4a52"/><rect x="1331" y="291.2" width="8" height="38.7" fill="#df4a52"/><rect x="1344" y="315.0" width="2" height="31.6" fill="#df4a52"/><rect x="1341" y="329.2" width="8" height="10.6" fill="#df4a52"/><rect x="1354" y="283.1" width="2" height="66.5" fill="#479683"/><rect x="1351" y="306.1" width="8" height="33.7" fill="#479683"/><rect x="1365" y="300.0" width="2" height="71.8" fill="#df4a52"/><rect x="1362" y="306.1" width="8" height="59.6" fill="#df4a52"/><rect x="1375" y="343.2" width="2" height="36.5" fill="#479683"/><rect x="1372" y="352.1" width="8" height="13.6" fill="#479683"/><rect x="1385" y="337.1" width="2" height="21.8" fill="#479683"/><rect x="1382" y="345.3" width="8" height="7.4" fill="#479683"/><rect x="1395" y="324.3" width="2" height="33.3" fill="#479683"/><rect x="1392" y="325.0" width="8" height="20.8" fill="#479683"/><rect x="1405" y="305.3" width="2" height="26.5" fill="#479683"/><rect x="1402" y="321.2" width="8" height="4.4" fill="#479683"/><rect x="1415" y="312.0" width="2" height="30.9" fill="#df4a52"/><rect x="1412" y="321.2" width="8" height="11.5" fill="#df4a52"/><rect x="1425" y="294.1" width="2" height="47.6" fill="#479683"/><rect x="1422" y="298.2" width="8" height="34.5" fill="#479683"/><rect x="1435" y="248.2" width="2" height="52.6" fill="#479683"/><rect x="1432" y="269.0" width="8" height="29.9" fill="#479683"/><rect x="1445" y="250.2" width="2" height="29.6" fill="#479683"/><rect x="1442" y="267.2" width="8" height="2.0" fill="#479683"/><rect x="1455" y="264.2" width="2" height="37.7" fill="#df4a52"/><rect x="1452" y="268.1" width="8" height="24.6" fill="#df4a52"/><rect x="1465" y="259.0" width="2" height="39.9" fill="#479683"/><rect x="1462" y="291.0" width="8" height="2.0" fill="#479683"/><rect x="1475" y="265.1" width="2" height="30.6" fill="#479683"/><rect x="1472" y="286.2" width="8" height="6.5" fill="#479683"/><rect x="1485" y="281.1" width="2" height="49.6" fill="#df4a52"/><rect x="1482" y="286.2" width="8" height="44.5" fill="#df4a52"/><rect x="1495" y="306.2" width="2" height="30.6" fill="#479683"/><rect x="1492" y="321.2" width="8" height="9.5" fill="#479683"/><rect x="1505" y="321.2" width="2" height="34.6" fill="#df4a52"/><rect x="1502" y="321.2" width="8" height="25.5" fill="#df4a52"/><rect x="1515" y="335.2" width="2" height="346.3" fill="#df4a52"/><rect x="1512" y="346.0" width="8" height="139.5" fill="#df4a52"/><rect x="1526" y="442.0" width="2" height="65.5" fill="#479683"/><rect x="1523" y="482.0" width="8" height="3.5" fill="#479683"/><rect x="1536" y="417.0" width="2" height="87.7" fill="#479683"/><rect x="1533" y="435.0" width="8" height="48.0" fill="#479683"/><rect x="1546" y="397.0" width="2" height="42.6" fill="#479683"/><rect x="1543" y="409.9" width="8" height="25.8" fill="#479683"/><rect x="1556" y="405.2" width="2" height="74.2" fill="#df4a52"/><rect x="1553" y="409.9" width="8" height="33.5" fill="#df4a52"/><rect x="1566" y="429.1" width="2" height="55.7" fill="#df4a52"/><rect x="1563" y="443.4" width="8" height="30.2" fill="#df4a52"/><rect x="1576" y="455.1" width="2" height="67.7" fill="#df4a52"/><rect x="1573" y="473.1" width="8" height="27.4" fill="#df4a52"/><rect x="1586" y="477.1" width="2" height="68.6" fill="#df4a52"/><rect x="1583" y="500.0" width="8" height="12.5" fill="#df4a52"/><rect x="1596" y="480.1" width="2" height="32.4" fill="#479683"/><rect x="1593" y="490.2" width="8" height="22.3" fill="#479683"/><rect x="1606" y="470.1" width="2" height="33.9" fill="#479683"/><rect x="1603" y="480.1" width="8" height="10.6" fill="#479683"/><rect x="1616" y="427.0" width="2" height="64.8" fill="#479683"/><rect x="1613" y="446.2" width="8" height="34.4" fill="#479683"/><rect x="1626" y="434.0" width="2" height="42.6" fill="#df4a52"/><rect x="1623" y="446.2" width="8" height="24.6" fill="#df4a52"/><rect x="1636" y="464.2" width="2" height="37.7" fill="#df4a52"/><rect x="1633" y="470.3" width="8" height="19.2" fill="#df4a52"/><rect x="1646" y="468.0" width="2" height="21.5" fill="#479683"/><rect x="1643" y="479.0" width="8" height="10.5" fill="#479683"/><rect x="1656" y="439.1" width="2" height="40.9" fill="#479683"/><rect x="1653" y="440.9" width="8" height="39.1" fill="#479683"/><rect x="1666" y="406.1" width="2" height="37.7" fill="#479683"/><rect x="1663" y="413.1" width="8" height="28.6" fill="#479683"/><rect x="1676" y="392.1" width="2" height="21.7" fill="#479683"/><rect x="1673" y="396.9" width="8" height="16.9" fill="#479683"/><rect x="1687" y="380.1" width="2" height="31.6" fill="#df4a52"/><rect x="1684" y="396.9" width="8" height="4.9" fill="#df4a52"/><rect x="1697" y="383.0" width="2" height="38.8" fill="#df4a52"/><rect x="1694" y="400.9" width="8" height="10.8" fill="#df4a52"/><rect x="1707" y="391.2" width="2" height="41.3" fill="#df4a52"/><rect x="1704" y="411.2" width="8" height="17.9" fill="#df4a52"/><rect x="1717" y="414.3" width="2" height="70.3" fill="#df4a52"/><rect x="1714" y="428.2" width="8" height="36.5" fill="#df4a52"/><rect x="1727" y="422.1" width="2" height="43.1" fill="#479683"/><rect x="1724" y="442.1" width="8" height="23.1" fill="#479683"/><rect x="1737" y="436.9" width="2" height="16.0" fill="#df4a52"/><rect x="1734" y="440.9" width="8" height="2.1" fill="#df4a52"/><rect x="1747" y="427.0" width="2" height="24.6" fill="#479683"/><rect x="1744" y="436.0" width="8" height="7.8" fill="#479683"/><rect x="1757" y="434.3" width="2" height="87.3" fill="#df4a52"/><rect x="1754" y="436.0" width="8" height="71.6" fill="#df4a52"/><rect x="1767" y="488.1" width="2" height="97.8" fill="#df4a52"/><rect x="1764" y="507.2" width="8" height="34.8" fill="#df4a52"/><rect x="1777" y="523.2" width="2" height="51.4" fill="#479683"/><rect x="1774" y="535.0" width="8" height="7.0" fill="#479683"/></g>
<line x1="8" y1="535" x2="1884" y2="535" stroke="#479683" stroke-width="2" stroke-dasharray="2 4"/>
<rect x="8" y="744" width="2014" height="2" fill="#e0e3eb"/>
<rect x="8" y="1013" width="2014" height="2" fill="#e0e3eb"/>
<path d="M587.8,836.8 L590.7,830.4 L600.7,808.2 L610.8,807.0 L620.8,797.6 L630.9,789.7 L641.0,802.5 L651.0,793.4 L661.1,772.9 L671.2,788.9 L681.2,788.9 L691.3,787.7 L701.4,783.0 L711.4,783.0 L718.2,836.8 Z" fill="url(#obg)"/>
<path d="M1514.1,976.8 L1516.5,989.2 L1526.5,986.7 L1529.6,976.8 Z" fill="#ef5350" fill-opacity="0.08"/>
<line x1="8" y1="836.8" x2="1884" y2="836.8" stroke="#787b86" stroke-width="2" stroke-dasharray="10.5 11.5"/>
<line x1="8" y1="906.8" x2="1884" y2="906.8" stroke="#787b86" stroke-opacity="0.5" stroke-width="2" stroke-dasharray="10.5 11.5"/>
<line x1="8" y1="976.8" x2="1884" y2="976.8" stroke="#787b86" stroke-width="2" stroke-dasharray="10.5 11.5"/>
<g clip-path="url(#rsiclip)"><polyline points="7.0,884.7 17.1,881.5 27.1,881.0 37.2,880.7 47.3,880.3 57.3,878.0 67.4,876.0 77.4,875.3 87.5,873.6 97.6,874.8 107.6,879.0 117.7,883.0 127.8,885.9 137.8,890.9 147.9,895.3 157.9,900.3 168.0,903.2 178.1,907.0 188.1,910.7 198.2,914.4 208.3,916.4 218.3,917.6 228.4,920.6 238.5,925.0 248.5,926.7 258.6,928.0 268.6,927.5 278.7,926.0 288.8,925.0 298.8,923.8 308.9,923.3 319.0,922.5 329.0,922.3 339.1,921.8 349.1,920.0 359.2,920.6 369.3,919.8 379.3,918.1 389.4,918.6 399.5,920.6 409.5,924.3 419.6,926.0 429.6,926.7 439.7,926.7 449.8,926.7 459.8,925.0 469.9,923.0 480.0,921.3 490.0,920.4 500.1,919.1 510.2,917.0 520.2,914.5 530.3,911.5 540.3,908.3 550.4,903.4 560.5,901.4 570.5,899.1 580.6,894.7 590.7,888.0 600.7,880.6 610.8,873.2 620.8,865.0 630.9,857.6 641.0,851.0 651.0,843.5 661.1,834.9 671.2,826.2 681.2,818.6 691.3,811.9 701.4,805.0 711.4,799.1 721.5,799.5 731.5,802.5 741.6,807.0 751.7,811.2 761.7,815.6 771.8,821.8 781.9,827.2 791.9,833.7 802.0,842.8 812.0,852.7 822.1,863.1 832.2,872.0 842.2,880.4 852.3,888.0 862.4,890.5 872.4,891.0 882.5,891.0 892.5,892.2 902.6,893.5 912.7,894.7 922.7,894.7 932.8,894.2 942.9,894.7 952.9,894.7 963.0,892.2 973.1,892.2 983.1,893.0 993.2,895.2 1003.2,897.2 1013.3,901.6 1023.4,904.1 1033.4,906.1 1043.5,907.8 1053.6,910.3 1063.6,912.2 1073.7,914.7 1083.7,915.9 1093.8,918.4 1103.9,920.6 1113.9,922.6 1124.0,924.6 1134.1,923.4 1144.1,923.9 1154.2,923.4 1164.2,925.1 1174.3,926.8 1184.4,927.6 1194.4,925.1 1204.5,924.4 1214.6,922.6 1224.6,920.1 1234.7,916.4 1244.8,911.5 1254.8,907.8 1264.9,904.8 1274.9,902.8 1285.0,899.1 1295.1,895.4 1305.1,893.7 1315.2,892.5 1325.3,892.5 1335.3,895.4 1345.4,897.9 1355.4,899.6 1365.5,904.1 1375.6,909.5 1385.6,914.0 1395.7,916.4 1405.8,917.2 1415.8,919.7 1425.9,920.9 1435.9,920.1 1446.0,918.4 1456.1,917.7 1466.1,916.2 1476.2,914.3 1486.3,912.8 1496.3,913.0 1506.4,912.0 1516.5,915.5 1526.5,919.6 1536.6,922.1 1546.6,923.8 1556.7,926.3 1566.8,931.1 1576.8,936.7 1586.9,943.5 1597.0,948.7 1607.0,951.8 1617.1,954.5 1627.1,955.6 1637.2,957.4 1647.3,958.0 1657.3,953.5 1667.4,947.0 1677.5,943.1 1687.5,940.4 1697.6,936.9 1707.7,933.6 1717.7,931.1 1727.8,926.9 1737.8,924.2 1747.9,921.7 1758.0,923.2 1768.0,924.8 1778.1,925.3" fill="none" stroke="#f5d34a" stroke-width="2" stroke-linejoin="round"/>
<polyline points="7.0,842.2 17.1,850.1 27.1,889.1 37.2,890.9 47.3,895.8 57.3,882.7 67.4,893.3 77.4,898.8 87.5,890.9 97.6,884.2 107.6,914.9 117.7,907.5 127.8,904.5 137.8,912.4 147.9,910.2 157.9,921.0 168.0,928.5 178.1,949.7 188.1,939.4 198.2,937.1 208.3,932.2 218.3,917.6 228.4,928.5 238.5,951.5 248.5,931.7 258.6,927.2 268.6,902.5 278.7,890.1 288.8,894.6 298.8,904.5 308.9,923.0 319.0,933.4 329.0,935.4 339.1,928.0 349.1,906.2 359.2,926.0 369.3,922.5 379.3,924.3 389.4,935.9 399.5,948.5 409.5,958.4 419.6,914.4 429.6,906.5 439.7,907.4 449.8,928.0 459.8,916.4 469.9,905.2 480.0,900.3 490.0,891.9 500.1,910.3 510.2,894.2 520.2,888.5 530.3,899.1 540.3,900.1 550.4,885.6 560.5,886.1 570.5,874.2 580.6,852.7 590.7,830.4 600.7,808.2 610.8,807.0 620.8,797.6 630.9,789.7 641.0,802.5 651.0,793.4 661.1,772.9 671.2,788.9 681.2,788.9 691.3,787.7 701.4,783.0 711.4,783.0 721.5,862.6 731.5,869.2 741.6,870.0 751.7,866.8 761.7,858.9 771.8,880.6 781.9,880.4 791.9,886.5 802.0,899.6 812.0,910.8 822.1,938.7 832.2,909.5 842.2,893.0 852.3,908.3 862.4,904.1 872.4,866.3 882.5,871.2 892.5,880.6 902.6,886.8 912.7,894.7 922.7,878.6 932.8,877.9 942.9,907.1 952.9,907.1 963.0,903.4 973.1,905.8 983.1,910.5 993.2,939.9 1003.2,923.9 1013.3,936.7 1023.4,902.8 1033.4,906.5 1043.5,910.3 1053.6,932.0 1063.6,909.5 1073.7,915.2 1083.7,915.2 1093.8,934.5 1103.9,935.0 1113.9,940.4 1124.0,942.4 1134.1,922.6 1144.1,925.1 1154.2,933.3 1164.2,929.5 1174.3,930.0 1184.4,914.0 1194.4,897.2 1204.5,901.6 1214.6,893.4 1224.6,883.1 1234.7,871.9 1244.8,869.5 1254.8,892.9 1264.9,899.6 1274.9,890.5 1285.0,881.8 1295.1,885.0 1305.1,906.1 1315.2,909.5 1325.3,911.0 1335.3,937.5 1345.4,942.9 1355.4,915.9 1365.5,949.1 1375.6,939.9 1385.6,934.2 1395.7,918.9 1405.8,915.9 1415.8,923.4 1425.9,899.6 1435.9,881.8 1446.0,881.3 1456.1,899.1 1466.1,897.8 1476.2,894.5 1486.3,926.5 1496.3,920.1 1506.4,935.6 1516.5,989.2 1526.5,986.7 1536.6,954.5 1546.6,940.4 1556.7,952.4 1566.8,962.8 1576.8,970.5 1586.9,974.2 1597.0,960.1 1607.0,953.5 1617.1,932.7 1627.1,942.5 1637.2,950.2 1647.3,943.9 1657.3,921.1 1667.4,905.5 1677.5,897.4 1687.5,899.5 1697.6,905.5 1707.7,915.5 1717.7,934.2 1727.8,920.7 1737.8,921.1 1747.9,916.1 1758.0,950.8 1768.0,964.3 1778.1,960.5" fill="none" stroke="#7552c0" stroke-width="2.1" stroke-linejoin="round"/></g>
<g clip-path="url(#macdclip)"><rect x="3" y="1172.0" width="8" height="18.8" fill="#52a398"/><rect x="13" y="1172.8" width="8" height="18.0" fill="#bcdedc"/><rect x="23" y="1179.1" width="8" height="11.7" fill="#bcdedc"/><rect x="33" y="1183.9" width="8" height="6.9" fill="#bcdedc"/><rect x="43" y="1188.4" width="8" height="2.4" fill="#bcdedc"/><rect x="53" y="1189.5" width="8" height="1.3" fill="#bcdedc"/><rect x="63" y="1190.8" width="8" height="1.0" fill="#ea5d57"/><rect x="73" y="1190.8" width="8" height="3.4" fill="#ea5d57"/><rect x="84" y="1190.8" width="8" height="3.9" fill="#ea5d57"/><rect x="94" y="1190.8" width="8" height="3.2" fill="#f6ccd1"/><rect x="104" y="1190.8" width="8" height="6.7" fill="#ea5d57"/><rect x="114" y="1190.8" width="8" height="7.7" fill="#ea5d57"/><rect x="124" y="1190.8" width="8" height="7.8" fill="#ea5d57"/><rect x="134" y="1190.8" width="8" height="8.6" fill="#ea5d57"/><rect x="144" y="1190.8" width="8" height="8.6" fill="#f6ccd1"/><rect x="154" y="1190.8" width="8" height="9.5" fill="#ea5d57"/><rect x="164" y="1190.8" width="8" height="10.6" fill="#ea5d57"/><rect x="174" y="1190.8" width="8" height="13.7" fill="#ea5d57"/><rect x="184" y="1190.8" width="8" height="14.0" fill="#ea5d57"/><rect x="194" y="1190.8" width="8" height="13.2" fill="#f6ccd1"/><rect x="204" y="1190.8" width="8" height="11.7" fill="#f6ccd1"/><rect x="214" y="1190.8" width="8" height="8.8" fill="#f6ccd1"/><rect x="224" y="1190.8" width="8" height="7.7" fill="#f6ccd1"/><rect x="234" y="1190.8" width="8" height="9.6" fill="#ea5d57"/><rect x="245" y="1190.8" width="8" height="8.3" fill="#f6ccd1"/><rect x="255" y="1190.8" width="8" height="6.5" fill="#f6ccd1"/><rect x="265" y="1190.8" width="8" height="2.4" fill="#f6ccd1"/><rect x="275" y="1188.9" width="8" height="1.9" fill="#52a398"/><rect x="285" y="1186.6" width="8" height="4.2" fill="#52a398"/><rect x="295" y="1186.3" width="8" height="4.5" fill="#52a398"/><rect x="305" y="1188.5" width="8" height="2.3" fill="#bcdedc"/><rect x="315" y="1190.8" width="8" height="1.0" fill="#ea5d57"/><rect x="325" y="1190.8" width="8" height="2.1" fill="#ea5d57"/><rect x="335" y="1190.8" width="8" height="2.2" fill="#ea5d57"/><rect x="345" y="1190.8" width="8" height="1.0" fill="#f6ccd1"/><rect x="355" y="1190.8" width="8" height="1.0" fill="#ea5d57"/><rect x="365" y="1190.8" width="8" height="1.0" fill="#ea5d57"/><rect x="375" y="1190.8" width="8" height="1.0" fill="#f6ccd1"/><rect x="385" y="1190.8" width="8" height="2.1" fill="#ea5d57"/><rect x="395" y="1190.8" width="8" height="4.1" fill="#ea5d57"/><rect x="406" y="1190.8" width="8" height="6.4" fill="#ea5d57"/><rect x="416" y="1190.8" width="8" height="3.3" fill="#f6ccd1"/><rect x="426" y="1190.8" width="8" height="1.0" fill="#f6ccd1"/><rect x="436" y="1189.0" width="8" height="1.8" fill="#52a398"/><rect x="446" y="1190.1" width="8" height="1.0" fill="#bcdedc"/><rect x="456" y="1189.6" width="8" height="1.2" fill="#52a398"/><rect x="466" y="1188.0" width="8" height="2.8" fill="#52a398"/><rect x="476" y="1186.5" width="8" height="4.3" fill="#52a398"/><rect x="486" y="1184.7" width="8" height="6.1" fill="#52a398"/><rect x="496" y="1185.7" width="8" height="5.1" fill="#bcdedc"/><rect x="506" y="1184.7" width="8" height="6.1" fill="#52a398"/><rect x="516" y="1183.8" width="8" height="7.0" fill="#52a398"/><rect x="526" y="1184.5" width="8" height="6.3" fill="#bcdedc"/><rect x="536" y="1185.2" width="8" height="5.6" fill="#bcdedc"/><rect x="546" y="1184.5" width="8" height="6.3" fill="#52a398"/><rect x="556" y="1184.4" width="8" height="6.4" fill="#52a398"/><rect x="567" y="1183.5" width="8" height="7.3" fill="#52a398"/><rect x="577" y="1180.8" width="8" height="10.0" fill="#52a398"/><rect x="587" y="1175.5" width="8" height="15.3" fill="#52a398"/><rect x="597" y="1167.9" width="8" height="22.9" fill="#52a398"/><rect x="607" y="1164.3" width="8" height="26.5" fill="#52a398"/><rect x="617" y="1160.9" width="8" height="29.9" fill="#52a398"/><rect x="627" y="1157.1" width="8" height="33.7" fill="#52a398"/><rect x="637" y="1158.0" width="8" height="32.8" fill="#bcdedc"/><rect x="647" y="1157.2" width="8" height="33.6" fill="#52a398"/><rect x="657" y="1146.5" width="8" height="44.3" fill="#52a398"/><rect x="667" y="1144.7" width="8" height="46.1" fill="#52a398"/><rect x="677" y="1146.3" width="8" height="44.5" fill="#bcdedc"/><rect x="687" y="1149.6" width="8" height="41.2" fill="#bcdedc"/><rect x="697" y="1152.1" width="8" height="38.7" fill="#bcdedc"/><rect x="707" y="1156.5" width="8" height="34.3" fill="#bcdedc"/><rect x="717" y="1172.6" width="8" height="18.2" fill="#bcdedc"/><rect x="728" y="1185.8" width="8" height="5.0" fill="#bcdedc"/><rect x="738" y="1190.8" width="8" height="4.6" fill="#ea5d57"/><rect x="748" y="1190.8" width="8" height="10.8" fill="#ea5d57"/><rect x="758" y="1190.8" width="8" height="13.2" fill="#ea5d57"/><rect x="768" y="1190.8" width="8" height="18.4" fill="#ea5d57"/><rect x="778" y="1190.8" width="8" height="21.3" fill="#ea5d57"/><rect x="788" y="1190.8" width="8" height="24.1" fill="#ea5d57"/><rect x="798" y="1190.8" width="8" height="27.6" fill="#ea5d57"/><rect x="808" y="1190.8" width="8" height="30.8" fill="#ea5d57"/><rect x="818" y="1190.8" width="8" height="37.4" fill="#ea5d57"/><rect x="828" y="1190.8" width="8" height="35.1" fill="#f6ccd1"/><rect x="838" y="1190.8" width="8" height="29.0" fill="#f6ccd1"/><rect x="848" y="1190.8" width="8" height="27.3" fill="#f6ccd1"/><rect x="858" y="1190.8" width="8" height="24.4" fill="#f6ccd1"/><rect x="868" y="1190.8" width="8" height="12.5" fill="#f6ccd1"/><rect x="878" y="1190.8" width="8" height="5.7" fill="#f6ccd1"/><rect x="889" y="1190.8" width="8" height="3.2" fill="#f6ccd1"/><rect x="899" y="1190.8" width="8" height="2.9" fill="#f6ccd1"/><rect x="909" y="1190.8" width="8" height="4.6" fill="#ea5d57"/><rect x="919" y="1190.8" width="8" height="1.8" fill="#f6ccd1"/><rect x="929" y="1190.8" width="8" height="1.0" fill="#f6ccd1"/><rect x="939" y="1190.8" width="8" height="4.8" fill="#ea5d57"/><rect x="949" y="1190.8" width="8" height="7.9" fill="#ea5d57"/><rect x="959" y="1190.8" width="8" height="8.9" fill="#ea5d57"/><rect x="969" y="1190.8" width="8" height="10.0" fill="#ea5d57"/><rect x="979" y="1190.8" width="8" height="11.1" fill="#ea5d57"/><rect x="989" y="1190.8" width="8" height="17.2" fill="#ea5d57"/><rect x="999" y="1190.8" width="8" height="17.7" fill="#ea5d57"/><rect x="1009" y="1190.8" width="8" height="20.1" fill="#ea5d57"/><rect x="1019" y="1190.8" width="8" height="14.4" fill="#f6ccd1"/><rect x="1029" y="1190.8" width="8" height="10.9" fill="#f6ccd1"/><rect x="1039" y="1190.8" width="8" height="8.8" fill="#f6ccd1"/><rect x="1050" y="1190.8" width="8" height="11.8" fill="#ea5d57"/><rect x="1060" y="1190.8" width="8" height="8.6" fill="#f6ccd1"/><rect x="1070" y="1190.8" width="8" height="7.5" fill="#f6ccd1"/><rect x="1080" y="1190.8" width="8" height="6.3" fill="#f6ccd1"/><rect x="1090" y="1190.8" width="8" height="9.4" fill="#ea5d57"/><rect x="1100" y="1190.8" width="8" height="10.9" fill="#ea5d57"/><rect x="1110" y="1190.8" width="8" height="12.3" fill="#ea5d57"/><rect x="1120" y="1190.8" width="8" height="12.8" fill="#ea5d57"/><rect x="1130" y="1190.8" width="8" height="9.5" fill="#f6ccd1"/><rect x="1140" y="1190.8" width="8" height="7.2" fill="#f6ccd1"/><rect x="1150" y="1190.8" width="8" height="6.7" fill="#f6ccd1"/><rect x="1160" y="1190.8" width="8" height="5.2" fill="#f6ccd1"/><rect x="1170" y="1190.8" width="8" height="3.9" fill="#f6ccd1"/><rect x="1180" y="1190.8" width="8" height="1.0" fill="#f6ccd1"/><rect x="1190" y="1186.8" width="8" height="4.0" fill="#52a398"/><rect x="1200" y="1184.4" width="8" height="6.4" fill="#52a398"/><rect x="1211" y="1182.0" width="8" height="8.8" fill="#52a398"/><rect x="1221" y="1179.2" width="8" height="11.6" fill="#52a398"/><rect x="1231" y="1176.0" width="8" height="14.8" fill="#52a398"/><rect x="1241" y="1174.3" width="8" height="16.5" fill="#52a398"/><rect x="1251" y="1176.7" width="8" height="14.1" fill="#bcdedc"/><rect x="1261" y="1179.7" width="8" height="11.1" fill="#bcdedc"/><rect x="1271" y="1181.0" width="8" height="9.8" fill="#bcdedc"/><rect x="1281" y="1181.0" width="8" height="9.8" fill="#52a398"/><rect x="1291" y="1181.9" width="8" height="8.9" fill="#bcdedc"/><rect x="1301" y="1185.3" width="8" height="5.5" fill="#bcdedc"/><rect x="1311" y="1188.2" width="8" height="2.6" fill="#bcdedc"/><rect x="1321" y="1190.2" width="8" height="1.0" fill="#bcdedc"/><rect x="1331" y="1190.8" width="8" height="4.2" fill="#ea5d57"/><rect x="1341" y="1190.8" width="8" height="7.8" fill="#ea5d57"/><rect x="1351" y="1190.8" width="8" height="6.9" fill="#f6ccd1"/><rect x="1362" y="1190.8" width="8" height="11.0" fill="#ea5d57"/><rect x="1372" y="1190.8" width="8" height="11.9" fill="#ea5d57"/><rect x="1382" y="1190.8" width="8" height="11.2" fill="#f6ccd1"/><rect x="1392" y="1190.8" width="8" height="8.4" fill="#f6ccd1"/><rect x="1402" y="1190.8" width="8" height="5.8" fill="#f6ccd1"/><rect x="1412" y="1190.8" width="8" height="4.7" fill="#f6ccd1"/><rect x="1422" y="1190.8" width="8" height="1.0" fill="#f6ccd1"/><rect x="1432" y="1186.4" width="8" height="4.4" fill="#52a398"/><rect x="1442" y="1183.1" width="8" height="7.7" fill="#52a398"/><rect x="1452" y="1183.6" width="8" height="7.2" fill="#bcdedc"/><rect x="1462" y="1184.1" width="8" height="6.7" fill="#bcdedc"/><rect x="1472" y="1184.3" width="8" height="6.5" fill="#bcdedc"/><rect x="1482" y="1188.6" width="8" height="2.2" fill="#bcdedc"/><rect x="1492" y="1190.5" width="8" height="1.0" fill="#bcdedc"/><rect x="1502" y="1190.8" width="8" height="3.2" fill="#ea5d57"/><rect x="1512" y="1190.8" width="8" height="17.1" fill="#ea5d57"/><rect x="1523" y="1190.8" width="8" height="24.6" fill="#ea5d57"/><rect x="1533" y="1190.8" width="8" height="23.8" fill="#f6ccd1"/><rect x="1543" y="1190.8" width="8" height="19.7" fill="#f6ccd1"/><rect x="1553" y="1190.8" width="8" height="18.8" fill="#f6ccd1"/><rect x="1563" y="1190.8" width="8" height="19.5" fill="#ea5d57"/><rect x="1573" y="1190.8" width="8" height="21.0" fill="#ea5d57"/><rect x="1583" y="1190.8" width="8" height="21.5" fill="#ea5d57"/><rect x="1593" y="1190.8" width="8" height="18.4" fill="#f6ccd1"/><rect x="1603" y="1190.8" width="8" height="14.1" fill="#f6ccd1"/><rect x="1613" y="1190.8" width="8" height="7.3" fill="#f6ccd1"/><rect x="1623" y="1190.8" width="8" height="4.3" fill="#f6ccd1"/><rect x="1633" y="1190.8" width="8" height="3.3" fill="#f6ccd1"/><rect x="1643" y="1190.8" width="8" height="1.0" fill="#f6ccd1"/><rect x="1653" y="1186.6" width="8" height="4.2" fill="#52a398"/><rect x="1663" y="1180.6" width="8" height="10.2" fill="#52a398"/><rect x="1673" y="1175.5" width="8" height="15.3" fill="#52a398"/><rect x="1684" y="1173.1" width="8" height="17.7" fill="#52a398"/><rect x="1694" y="1172.9" width="8" height="17.9" fill="#52a398"/><rect x="1704" y="1174.9" width="8" height="15.9" fill="#bcdedc"/><rect x="1714" y="1179.7" width="8" height="11.1" fill="#bcdedc"/><rect x="1724" y="1181.1" width="8" height="9.7" fill="#bcdedc"/><rect x="1734" y="1182.2" width="8" height="8.6" fill="#bcdedc"/><rect x="1744" y="1182.5" width="8" height="8.3" fill="#bcdedc"/><rect x="1754" y="1189.1" width="8" height="1.7" fill="#bcdedc"/><rect x="1764" y="1190.8" width="8" height="5.2" fill="#ea5d57"/><rect x="1774" y="1190.8" width="8" height="8.4" fill="#ea5d57"/></g>
<line x1="8" y1="1190.8" x2="1884" y2="1190.8" stroke="#787b86" stroke-opacity="0.5" stroke-width="2" stroke-dasharray="10.5 11.5"/>
<g clip-path="url(#macdclip)"><polyline points="7.0,1171.7 17.1,1167.2 27.1,1164.3 37.2,1162.6 47.3,1162.0 57.3,1161.6 67.4,1161.9 77.4,1162.7 87.5,1163.7 97.6,1164.5 107.6,1166.2 117.7,1168.1 127.8,1170.1 137.8,1172.2 147.9,1174.4 157.9,1176.8 168.0,1179.4 178.1,1182.8 188.1,1186.4 198.2,1189.7 208.3,1192.6 218.3,1194.8 228.4,1196.7 238.5,1199.1 248.5,1201.2 258.6,1202.8 268.6,1203.4 278.7,1202.9 288.8,1201.8 298.8,1200.7 308.9,1200.1 319.0,1200.2 329.0,1200.7 339.1,1201.3 349.1,1201.3 359.2,1201.5 369.3,1201.7 379.3,1201.9 389.4,1202.4 399.5,1203.5 409.5,1205.1 419.6,1205.9 429.6,1206.0 439.7,1205.5 449.8,1205.3 459.8,1205.1 469.9,1204.4 480.0,1203.3 490.0,1201.7 500.1,1200.5 510.2,1199.0 520.2,1197.2 530.3,1195.6 540.3,1194.2 550.4,1192.6 560.5,1191.0 570.5,1189.2 580.6,1186.7 590.7,1182.9 600.7,1177.1 610.8,1170.5 620.8,1163.0 630.9,1154.6 641.0,1146.4 651.0,1138.0 661.1,1126.9 671.2,1115.4 681.2,1104.3 691.3,1094.0 701.4,1084.3 711.4,1075.7 721.5,1071.2 731.5,1069.9 741.6,1071.1 751.7,1073.8 761.7,1077.1 771.8,1081.7 781.9,1087.0 791.9,1093.0 802.0,1099.9 812.0,1107.6 822.1,1117.0 832.2,1125.8 842.2,1133.0 852.3,1139.9 862.4,1146.0 872.4,1149.1 882.5,1150.5 892.5,1151.3 902.6,1152.0 912.7,1153.2 922.7,1153.6 932.8,1153.7 942.9,1154.9 952.9,1156.8 963.0,1159.1 973.1,1161.6 983.1,1164.3 993.2,1168.7 1003.2,1173.1 1013.3,1178.1 1023.4,1181.7 1033.4,1184.4 1043.5,1186.7 1053.6,1189.6 1063.6,1191.8 1073.7,1193.6 1083.7,1195.2 1093.8,1197.6 1103.9,1200.3 1113.9,1203.4 1124.0,1206.6 1134.1,1208.9 1144.1,1210.7 1154.2,1212.4 1164.2,1213.7 1174.3,1214.7 1184.4,1214.9 1194.4,1213.9 1204.5,1212.3 1214.6,1210.1 1224.6,1207.2 1234.7,1203.5 1244.8,1199.3 1254.8,1195.8 1264.9,1193.0 1274.9,1190.6 1285.0,1188.1 1295.1,1185.9 1305.1,1184.5 1315.2,1183.9 1325.3,1183.7 1335.3,1184.8 1345.4,1186.7 1355.4,1188.5 1365.5,1191.2 1375.6,1194.2 1385.6,1197.0 1395.7,1199.1 1405.8,1200.5 1415.8,1201.7 1425.9,1201.9 1435.9,1200.8 1446.0,1198.9 1456.1,1197.1 1466.1,1195.4 1476.2,1193.8 1486.3,1193.3 1496.3,1193.2 1506.4,1194.0 1516.5,1198.3 1526.5,1204.4 1536.6,1210.3 1546.6,1215.3 1556.7,1220.0 1566.8,1224.8 1576.8,1230.1 1586.9,1235.5 1597.0,1240.1 1607.0,1243.6 1617.1,1245.4 1627.1,1246.5 1637.2,1247.3 1647.3,1247.6 1657.3,1246.5 1667.4,1244.0 1677.5,1240.1 1687.5,1235.7 1697.6,1231.2 1707.7,1227.3 1717.7,1224.5 1727.8,1222.1 1737.8,1219.9 1747.9,1217.8 1758.0,1217.4 1768.0,1218.7 1778.1,1220.8" fill="none" stroke="#f0731e" stroke-width="2.2" stroke-linejoin="round"/>
<polyline points="7.0,1152.9 17.1,1149.2 27.1,1152.6 37.2,1155.7 47.3,1159.5 57.3,1160.3 67.4,1162.9 77.4,1166.2 87.5,1167.6 97.6,1167.7 107.6,1172.9 117.7,1175.8 127.8,1177.9 137.8,1180.8 147.9,1182.9 157.9,1186.3 168.0,1190.1 178.1,1196.6 188.1,1200.4 198.2,1202.9 208.3,1204.3 218.3,1203.5 228.4,1204.4 238.5,1208.6 248.5,1209.5 258.6,1209.2 268.6,1205.7 278.7,1201.0 288.8,1197.6 298.8,1196.2 308.9,1197.8 319.0,1200.6 329.0,1202.8 339.1,1203.5 349.1,1201.3 359.2,1202.3 369.3,1202.6 379.3,1202.8 389.4,1204.5 399.5,1207.6 409.5,1211.5 419.6,1209.2 429.6,1206.2 439.7,1203.7 449.8,1204.6 459.8,1203.9 469.9,1201.6 480.0,1198.9 490.0,1195.7 500.1,1195.4 510.2,1192.9 520.2,1190.2 530.3,1189.3 540.3,1188.6 550.4,1186.3 560.5,1184.6 570.5,1181.9 580.6,1176.6 590.7,1167.6 600.7,1154.3 610.8,1144.1 620.8,1133.1 630.9,1120.9 641.0,1113.6 651.0,1104.4 661.1,1082.6 671.2,1069.3 681.2,1059.8 691.3,1052.8 701.4,1045.6 711.4,1041.4 721.5,1053.0 731.5,1064.9 741.6,1075.6 751.7,1084.6 761.7,1090.3 771.8,1100.1 781.9,1108.3 791.9,1117.2 802.0,1127.5 812.0,1138.5 822.1,1154.4 832.2,1160.9 842.2,1162.0 852.3,1167.2 862.4,1170.4 872.4,1161.6 882.5,1156.2 892.5,1154.5 902.6,1154.9 912.7,1157.8 922.7,1155.4 932.8,1153.7 942.9,1159.7 952.9,1164.8 963.0,1168.0 973.1,1171.5 983.1,1175.5 993.2,1185.9 1003.2,1190.8 1013.3,1198.2 1023.4,1196.1 1033.4,1195.4 1043.5,1195.5 1053.6,1201.4 1063.6,1200.4 1073.7,1201.1 1083.7,1201.5 1093.8,1207.0 1103.9,1211.2 1113.9,1215.7 1124.0,1219.4 1134.1,1218.4 1144.1,1218.0 1154.2,1219.1 1164.2,1219.0 1174.3,1218.6 1184.4,1215.7 1194.4,1209.9 1204.5,1205.9 1214.6,1201.3 1224.6,1195.6 1234.7,1188.7 1244.8,1182.8 1254.8,1181.7 1264.9,1182.0 1274.9,1180.8 1285.0,1178.3 1295.1,1177.0 1305.1,1179.0 1315.2,1181.3 1325.3,1183.2 1335.3,1189.0 1345.4,1194.6 1355.4,1195.3 1365.5,1202.3 1375.6,1206.1 1385.6,1208.2 1395.7,1207.5 1405.8,1206.3 1415.8,1206.4 1425.9,1202.7 1435.9,1196.4 1446.0,1191.2 1456.1,1189.9 1466.1,1188.7 1476.2,1187.3 1486.3,1191.0 1496.3,1192.9 1506.4,1197.1 1516.5,1215.4 1526.5,1229.0 1536.6,1234.1 1546.6,1235.0 1556.7,1238.7 1566.8,1244.4 1576.8,1251.1 1586.9,1257.0 1597.0,1258.5 1607.0,1257.7 1617.1,1252.7 1627.1,1250.8 1637.2,1250.6 1647.3,1248.6 1657.3,1242.3 1667.4,1233.7 1677.5,1224.8 1687.5,1218.0 1697.6,1213.4 1707.7,1211.4 1717.7,1213.4 1727.8,1212.3 1737.8,1211.3 1747.9,1209.5 1758.0,1215.7 1768.0,1223.9 1778.1,1229.2" fill="none" stroke="#2e5df5" stroke-width="2.2" stroke-linejoin="round"/></g>
<rect x="0" y="0" width="8" height="1324" fill="#ebebeb"/>
<g clip-path="url(#axisclip)"><text x="1903" y="95.4" font-size="24" fill="#131722" textLength="80" lengthAdjust="spacingAndGlyphs">3.6000</text><text x="1903" y="160.4" font-size="24" fill="#131722" textLength="80" lengthAdjust="spacingAndGlyphs">3.4000</text><text x="1903" y="225.5" font-size="24" fill="#131722" textLength="80" lengthAdjust="spacingAndGlyphs">3.2000</text><text x="1903" y="290.5" font-size="24" fill="#131722" textLength="80" lengthAdjust="spacingAndGlyphs">3.0000</text><text x="1903" y="355.5" font-size="24" fill="#131722" textLength="80" lengthAdjust="spacingAndGlyphs">2.8000</text><text x="1903" y="420.5" font-size="24" fill="#131722" textLength="80" lengthAdjust="spacingAndGlyphs">2.6000</text><text x="1903" y="485.5" font-size="24" fill="#131722" textLength="80" lengthAdjust="spacingAndGlyphs">2.4000</text><text x="1903" y="615.6" font-size="24" fill="#131722" textLength="80" lengthAdjust="spacingAndGlyphs">2.0000</text><text x="1903" y="680.6" font-size="24" fill="#131722" textLength="80" lengthAdjust="spacingAndGlyphs">1.8000</text><text x="1903" y="745.6" font-size="24" fill="#131722" textLength="80" lengthAdjust="spacingAndGlyphs">1.6000</text><text x="1903" y="811.1" font-size="24" fill="#131722" textLength="64.8" lengthAdjust="spacingAndGlyphs">80.00</text><text x="1903" y="880.2" font-size="24" fill="#131722" textLength="64.8" lengthAdjust="spacingAndGlyphs">60.00</text><text x="1903" y="1111.7" font-size="24" fill="#131722" textLength="80" lengthAdjust="spacingAndGlyphs">0.2000</text></g>
<path d="M1886,518 H2014 Q2018,518 2018,522 V576 Q2018,580 2014,580 H1886 Z" fill="#479683"/>
<text x="1903.6" y="542.2" font-size="24" fill="#ffffff" textLength="79.7" lengthAdjust="spacingAndGlyphs">2.2210</text>
<text x="1903.6" y="569.7" font-size="24" fill="#ffffff" textLength="101.7" lengthAdjust="spacingAndGlyphs" fill-opacity="0.8">15:19:47</text>
<path d="M1886,696 H2000 Q2004,696 2004,700 V725.7 Q2004,729.7 2000,729.7 H1886 Z" fill="#50a399"/>
<text x="1903.9" y="721.3" font-size="24" fill="#ffffff" textLength="89.5" lengthAdjust="spacingAndGlyphs">51.96 M</text>
<path d="M1886,909.3 H1976 Q1980,909.3 1980,913.3 V938.2 Q1980,942.2 1976,942.2 H1886 Z" fill="#f7d85b"/>
<text x="1903.2" y="933.8" font-size="24" fill="#131722" textLength="64.8" lengthAdjust="spacingAndGlyphs">44.75</text>
<path d="M1886,944.2 H1976 Q1980,944.2 1980,948.2 V973.6 Q1980,977.6 1976,977.6 H1886 Z" fill="#7858bd"/>
<text x="1903.2" y="968.2" font-size="24" fill="#ffffff" textLength="64.8" lengthAdjust="spacingAndGlyphs">34.71</text>
<path d="M1886,1182.2 H2006 Q2010,1182.2 2010,1186.2 V1212 Q2010,1216 2006,1216 H1886 Z" fill="#ec5b56"/>
<text x="1904.5" y="1206.8" font-size="24" fill="#ffffff" textLength="92.9" lengthAdjust="spacingAndGlyphs">−0.0191</text>
<path d="M1886,1216.9 H2006 Q2010,1216.9 2010,1220.9 V1245.8 Q2010,1249.8 2006,1249.8 H1886 Z" fill="#f0782f"/>
<text x="1904.5" y="1240.6" font-size="24" fill="#ffffff" textLength="92.9" lengthAdjust="spacingAndGlyphs">−0.0681</text>
<path d="M1886,1250.8 H2006 Q2010,1250.8 2010,1254.8 V1277.5 Q2010,1281.5 2006,1281.5 H1886 Z" fill="#3f64f6"/>
<text x="1904.5" y="1274.5" font-size="24" fill="#ffffff" textLength="92.9" lengthAdjust="spacingAndGlyphs">−0.0872</text>
<text x="198.2" y="1319.8" font-size="23.3" fill="#131722" font-weight="bold" text-anchor="middle" textLength="42" lengthAdjust="spacingAndGlyphs">Jun</text>
<text x="499.9" y="1319.8" font-size="23.3" fill="#131722" font-weight="bold" text-anchor="middle" textLength="35.1" lengthAdjust="spacingAndGlyphs">Jul</text>
<text x="812.0" y="1319.8" font-size="23.3" fill="#131722" font-weight="bold" text-anchor="middle" textLength="45.8" lengthAdjust="spacingAndGlyphs">Aug</text>
<text x="1124.0" y="1319.8" font-size="23.3" fill="#131722" font-weight="bold" text-anchor="middle" textLength="44.7" lengthAdjust="spacingAndGlyphs">Sep</text>
<text x="1426.0" y="1319.8" font-size="23.3" fill="#131722" font-weight="bold" text-anchor="middle" textLength="40.6" lengthAdjust="spacingAndGlyphs">Oct</text>
<text x="1738.0" y="1319.8" font-size="23.3" fill="#131722" font-weight="bold" text-anchor="middle" textLength="44.3" lengthAdjust="spacingAndGlyphs">Nov</text>
<g transform="translate(1957.1,1311)" fill="none" stroke="#0a0a0a" stroke-width="2"><path d="M-14.2,0 L-7.6,-12.2 L7.6,-12.2 L14.2,0 L7.6,12.2 L-7.6,12.2 Z" stroke-linejoin="miter"/><circle r="4.1"/></g>
<g fill="#111111"><path d="M32.2,1224.1 H55.9 V1253.7 H44.2 V1235.8 H32.2 Z"/><circle cx="66" cy="1229.9" r="5.8"/><path d="M78.2,1224.1 H91.8 L79.9,1253.7 H66.3 Z"/></g>
<text x="106.1" y="1253.7" font-size="43.3" fill="#111111" font-weight="bold" textLength="241.3" lengthAdjust="spacingAndGlyphs">TradingView</text>
<circle cx="44" cy="22" r="18" fill="#16181d"/>
<g fill="none" stroke="#ffffff" stroke-width="2.3" stroke-linecap="butt"><path d="M34.4,12.2 L40.6,18.4 Q44,21.5 47.4,18.4 L53.6,12.2"/><path d="M34.4,31.8 L40.6,25.6 Q44,22.5 47.4,25.6 L53.6,31.8"/></g>
<text x="71.6" y="34.6" font-size="33" fill="#131722" textLength="462.5" lengthAdjust="spacingAndGlyphs">XRP / U.S. Dollar · 1D · Coinbase</text>
<circle cx="568.9" cy="21.9" r="18" fill="#e3f1ee"/><circle cx="568.9" cy="21.9" r="8" fill="#469682"/>
<text x="604.3" y="31.6" font-size="26" fill="#131722" textLength="17" lengthAdjust="spacingAndGlyphs">O</text>
<text x="626.2" y="31.6" font-size="26" fill="#469a86" textLength="87.6" lengthAdjust="spacingAndGlyphs">2.2049</text>
<text x="726.8" y="31.6" font-size="26" fill="#131722" textLength="16.2" lengthAdjust="spacingAndGlyphs">H</text>
<text x="749.1" y="31.6" font-size="26" fill="#469a86" textLength="85.2" lengthAdjust="spacingAndGlyphs">2.2601</text>
<text x="849.3" y="31.6" font-size="26" fill="#131722" textLength="11.3" lengthAdjust="spacingAndGlyphs">L</text>
<text x="866.7" y="31.6" font-size="26" fill="#469a86" textLength="85.2" lengthAdjust="spacingAndGlyphs">2.1011</text>
<text x="966" y="31.6" font-size="26" fill="#131722" textLength="16.3" lengthAdjust="spacingAndGlyphs">C</text>
<text x="987.2" y="31.6" font-size="26" fill="#469a86" textLength="86.3" lengthAdjust="spacingAndGlyphs">2.2210</text>
<text x="1086.9" y="31.6" font-size="26" fill="#469a86" textLength="224.7" lengthAdjust="spacingAndGlyphs">+0.0162 (+0.73%)</text>
<rect x="1893.5" y="-2" width="124.7" height="50.5" rx="8" fill="#ffffff" stroke="#e5e5e5" stroke-width="2"/>
<text x="1901" y="33" font-size="24" fill="#131722" textLength="48" lengthAdjust="spacingAndGlyphs">USD</text>
<path d="M1999.9,21.7 L2005.1,26.6 L2010.3,21.7" fill="none" stroke="#131722" stroke-width="2.4"/>
<rect x="25.2" y="55.2" width="128.5" height="65.5" rx="11" fill="#ffffff" stroke="#e0383e" stroke-width="2"/>
<text x="89.6" y="82.9" font-size="24" fill="#e0383e" text-anchor="middle" textLength="83.5" lengthAdjust="spacingAndGlyphs" stroke="#e0383e" stroke-width="0.8">2.2218</text>
<text x="89.2" y="109.9" font-size="22.5" fill="#e0383e" text-anchor="middle" textLength="53.2" lengthAdjust="spacingAndGlyphs">SELL</text>
<text x="171.7" y="95" font-size="20" fill="#131722" textLength="67" lengthAdjust="spacingAndGlyphs">0.0001</text>
<rect x="258.2" y="55.2" width="128.9" height="65.5" rx="11" fill="#ffffff" stroke="#2f5ff5" stroke-width="2"/>
<text x="322.9" y="82.9" font-size="24" fill="#2f5ff5" text-anchor="middle" textLength="83.5" lengthAdjust="spacingAndGlyphs" stroke="#2f5ff5" stroke-width="0.8">2.2219</text>
<text x="322.9" y="109.9" font-size="22.5" fill="#2f5ff5" text-anchor="middle" textLength="44.5" lengthAdjust="spacingAndGlyphs">BUY</text>
<text x="27.2" y="164.3" font-size="26" fill="#131722" textLength="108" lengthAdjust="spacingAndGlyphs">Vol · XRP</text>
<text x="154.3" y="164.3" font-size="26" fill="#4fa398" textLength="95" lengthAdjust="spacingAndGlyphs">51.96 M</text>
<rect x="25.5" y="185.8" width="54.8" height="38.3" rx="7" fill="#ffffff" stroke="#d9d9d9" stroke-width="2"/>
<path d="M45,209.3 L52.9,201.3 L60.8,209.3" fill="none" stroke="#131722" stroke-width="2.6"/>
<text x="27.2" y="787.5" font-size="26" fill="#131722" textLength="148.4" lengthAdjust="spacingAndGlyphs">RSI 14 close</text>
<text x="194.9" y="787.5" font-size="26" fill="#7e57c2" textLength="67.7" lengthAdjust="spacingAndGlyphs">34.71</text>
<text x="278.2" y="787.5" font-size="26" fill="#f5cf3a" textLength="70.5" lengthAdjust="spacingAndGlyphs">44.75</text>
<text x="27.3" y="1057" font-size="26" fill="#131722" textLength="225.3" lengthAdjust="spacingAndGlyphs">MACD 12 26 close</text>
<text x="270.3" y="1057" font-size="26" fill="#ef5350" textLength="102.3" lengthAdjust="spacingAndGlyphs">−0.0191</text>
<text x="387.7" y="1057" font-size="26" fill="#2962ff" textLength="102.8" lengthAdjust="spacingAndGlyphs">−0.0872</text>
<text x="505.3" y="1057" font-size="26" fill="#f0782f" textLength="102" lengthAdjust="spacingAndGlyphs">−0.0681</text>
<circle cx="1799" cy="717.9" r="22.8" fill="#ffffff"/>
<circle cx="1799" cy="717.9" r="20.6" fill="#ffffff" stroke="#e2383f" stroke-width="2.3"/>
<clipPath id="fcb"><circle cx="1799" cy="717.9" r="16"/></clipPath>
<g clip-path="url(#fcb)"><rect x="1783" y="701.9" width="32" height="32" fill="#f4f6fb"/><rect x="1783" y="701.9" width="32" height="7.300000000000001" fill="#e05a50"/><rect x="1783" y="714.5" width="32" height="6.8" fill="#e05a50"/><rect x="1783" y="727.0" width="32" height="6.9" fill="#e05a50"/><rect x="1783" y="701.9" width="19.8" height="19.4" fill="#3d7fe0"/><path transform="translate(1792.5,706.9)" d="M0.00,-1.90 L0.47,-0.65 L1.81,-0.59 L0.76,0.25 L1.12,1.54 L0.00,0.80 L-1.12,1.54 L-0.76,0.25 L-1.81,-0.59 L-0.47,-0.65 Z" fill="#ffffff"/><path transform="translate(1797.8,706.9)" d="M0.00,-1.90 L0.47,-0.65 L1.81,-0.59 L0.76,0.25 L1.12,1.54 L0.00,0.80 L-1.12,1.54 L-0.76,0.25 L-1.81,-0.59 L-0.47,-0.65 Z" fill="#ffffff"/><path transform="translate(1787.5,711.9)" d="M0.00,-1.90 L0.47,-0.65 L1.81,-0.59 L0.76,0.25 L1.12,1.54 L0.00,0.80 L-1.12,1.54 L-0.76,0.25 L-1.81,-0.59 L-0.47,-0.65 Z" fill="#ffffff"/><path transform="translate(1792.5,711.9)" d="M0.00,-1.90 L0.47,-0.65 L1.81,-0.59 L0.76,0.25 L1.12,1.54 L0.00,0.80 L-1.12,1.54 L-0.76,0.25 L-1.81,-0.59 L-0.47,-0.65 Z" fill="#ffffff"/><path transform="translate(1797.8,711.9)" d="M0.00,-1.90 L0.47,-0.65 L1.81,-0.59 L0.76,0.25 L1.12,1.54 L0.00,0.80 L-1.12,1.54 L-0.76,0.25 L-1.81,-0.59 L-0.47,-0.65 Z" fill="#ffffff"/><path transform="translate(1787.5,716.9)" d="M0.00,-1.90 L0.47,-0.65 L1.81,-0.59 L0.76,0.25 L1.12,1.54 L0.00,0.80 L-1.12,1.54 L-0.76,0.25 L-1.81,-0.59 L-0.47,-0.65 Z" fill="#ffffff"/><path transform="translate(1792.5,716.9)" d="M0.00,-1.90 L0.47,-0.65 L1.81,-0.59 L0.76,0.25 L1.12,1.54 L0.00,0.80 L-1.12,1.54 L-0.76,0.25 L-1.81,-0.59 L-0.47,-0.65 Z" fill="#ffffff"/><path transform="translate(1797.8,716.9)" d="M0.00,-1.90 L0.47,-0.65 L1.81,-0.59 L0.76,0.25 L1.12,1.54 L0.00,0.80 L-1.12,1.54 L-0.76,0.25 L-1.81,-0.59 L-0.47,-0.65 Z" fill="#ffffff"/></g>
<circle cx="1778.2" cy="717.9" r="22.8" fill="#ffffff"/>
<circle cx="1778.2" cy="717.9" r="20.6" fill="#ffffff" stroke="#e2383f" stroke-width="2.3"/>
<clipPath id="fca"><circle cx="1778.2" cy="717.9" r="16"/></clipPath>
<g clip-path="url(#fca)"><rect x="1762.2" y="701.9" width="32" height="32" fill="#f4f6fb"/><rect x="1762.2" y="701.9" width="32" height="7.300000000000001" fill="#e05a50"/><rect x="1762.2" y="714.5" width="32" height="6.8" fill="#e05a50"/><rect x="1762.2" y="727.0" width="32" height="6.9" fill="#e05a50"/><rect x="1762.2" y="701.9" width="19.8" height="19.4" fill="#3d7fe0"/><path transform="translate(1771.7,706.9)" d="M0.00,-1.90 L0.47,-0.65 L1.81,-0.59 L0.76,0.25 L1.12,1.54 L0.00,0.80 L-1.12,1.54 L-0.76,0.25 L-1.81,-0.59 L-0.47,-0.65 Z" fill="#ffffff"/><path transform="translate(1777.0,706.9)" d="M0.00,-1.90 L0.47,-0.65 L1.81,-0.59 L0.76,0.25 L1.12,1.54 L0.00,0.80 L-1.12,1.54 L-0.76,0.25 L-1.81,-0.59 L-0.47,-0.65 Z" fill="#ffffff"/><path transform="translate(1766.7,711.9)" d="M0.00,-1.90 L0.47,-0.65 L1.81,-0.59 L0.76,0.25 L1.12,1.54 L0.00,0.80 L-1.12,1.54 L-0.76,0.25 L-1.81,-0.59 L-0.47,-0.65 Z" fill="#ffffff"/><path transform="translate(1771.7,711.9)" d="M0.00,-1.90 L0.47,-0.65 L1.81,-0.59 L0.76,0.25 L1.12,1.54 L0.00,0.80 L-1.12,1.54 L-0.76,0.25 L-1.81,-0.59 L-0.47,-0.65 Z" fill="#ffffff"/><path transform="translate(1777.0,711.9)" d="M0.00,-1.90 L0.47,-0.65 L1.81,-0.59 L0.76,0.25 L1.12,1.54 L0.00,0.80 L-1.12,1.54 L-0.76,0.25 L-1.81,-0.59 L-0.47,-0.65 Z" fill="#ffffff"/><path transform="translate(1766.7,716.9)" d="M0.00,-1.90 L0.47,-0.65 L1.81,-0.59 L0.76,0.25 L1.12,1.54 L0.00,0.80 L-1.12,1.54 L-0.76,0.25 L-1.81,-0.59 L-0.47,-0.65 Z" fill="#ffffff"/><path transform="translate(1771.7,716.9)" d="M0.00,-1.90 L0.47,-0.65 L1.81,-0.59 L0.76,0.25 L1.12,1.54 L0.00,0.80 L-1.12,1.54 L-0.76,0.25 L-1.81,-0.59 L-0.47,-0.65 Z" fill="#ffffff"/><path transform="translate(1777.0,716.9)" d="M0.00,-1.90 L0.47,-0.65 L1.81,-0.59 L0.76,0.25 L1.12,1.54 L0.00,0.80 L-1.12,1.54 L-0.76,0.25 L-1.81,-0.59 L-0.47,-0.65 Z" fill="#ffffff"/></g>
<circle cx="1779" cy="668.8" r="18.7" fill="#ffffff" stroke="#8e27ab" stroke-width="2.3"/>
<path d="M1783.4,658.4 L1784.8,659.7 L1776.5,667.1 L1787.1,667.6 L1773.1,679.8 L1771.8,678.7 L1778.6,670.8 L1769.3,670.5 L1770.2,669 Z" fill="#8e27ab"/>
<g transform="translate(1756.9,676)"><path d="M0,-9.8 C1.2,-3.2 3.2,-1.2 9.6,0 C3.2,1.2 1.2,3.2 0,9.8 C-1.2,3.2 -3.2,1.2 -9.6,0 C-3.2,-1.2 -1.2,-3.2 0,-9.8 Z" fill="#ffffff" stroke="#ffffff" stroke-width="5" stroke-linejoin="round"/><path d="M0,-9.8 C1.2,-3.2 3.2,-1.2 9.6,0 C3.2,1.2 1.2,3.2 0,9.8 C-1.2,3.2 -3.2,1.2 -9.6,0 C-3.2,-1.2 -1.2,-3.2 0,-9.8 Z" fill="#7049f6"/></g>
</svg>
</body></html>
